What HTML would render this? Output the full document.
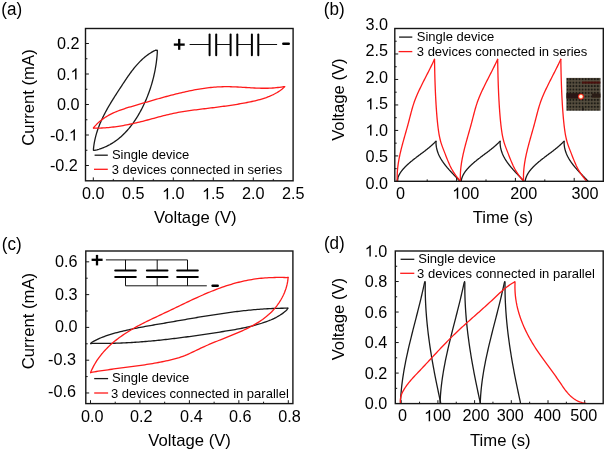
<!DOCTYPE html><html><head><meta charset="utf-8"><style>html,body{margin:0;padding:0;background:#fff;width:606px;height:451px;overflow:hidden}svg{display:block;filter:blur(0.3px)}text{font-family:"Liberation Sans",sans-serif}</style></head><body>
<svg xmlns="http://www.w3.org/2000/svg" width="606" height="451" viewBox="0 0 606 451">
<rect width="606" height="451" fill="#fff"/>
<text transform="translate(1.20,14.60) scale(0.96,1)" font-size="17.8" text-anchor="start" fill="#000" >(a)</text>
<text transform="translate(323.70,14.50) scale(0.96,1)" font-size="17.8" text-anchor="start" fill="#000" >(b)</text>
<text transform="translate(1.80,249.50) scale(0.96,1)" font-size="17.8" text-anchor="start" fill="#000" >(c)</text>
<text transform="translate(323.90,249.20) scale(0.96,1)" font-size="17.8" text-anchor="start" fill="#000" >(d)</text>
<line x1="93.30" y1="180.80" x2="93.30" y2="177.40" stroke="#161616" stroke-width="1.0" stroke-linecap="butt"/>
<line x1="133.30" y1="180.80" x2="133.30" y2="177.40" stroke="#161616" stroke-width="1.0" stroke-linecap="butt"/>
<line x1="173.30" y1="180.80" x2="173.30" y2="177.40" stroke="#161616" stroke-width="1.0" stroke-linecap="butt"/>
<line x1="213.30" y1="180.80" x2="213.30" y2="177.40" stroke="#161616" stroke-width="1.0" stroke-linecap="butt"/>
<line x1="253.30" y1="180.80" x2="253.30" y2="177.40" stroke="#161616" stroke-width="1.0" stroke-linecap="butt"/>
<line x1="113.30" y1="180.80" x2="113.30" y2="178.90" stroke="#161616" stroke-width="1.0" stroke-linecap="butt"/>
<line x1="153.30" y1="180.80" x2="153.30" y2="178.90" stroke="#161616" stroke-width="1.0" stroke-linecap="butt"/>
<line x1="193.30" y1="180.80" x2="193.30" y2="178.90" stroke="#161616" stroke-width="1.0" stroke-linecap="butt"/>
<line x1="233.30" y1="180.80" x2="233.30" y2="178.90" stroke="#161616" stroke-width="1.0" stroke-linecap="butt"/>
<line x1="273.30" y1="180.80" x2="273.30" y2="178.90" stroke="#161616" stroke-width="1.0" stroke-linecap="butt"/>
<line x1="85.50" y1="165.50" x2="88.90" y2="165.50" stroke="#161616" stroke-width="1.0" stroke-linecap="butt"/>
<line x1="85.50" y1="135.00" x2="88.90" y2="135.00" stroke="#161616" stroke-width="1.0" stroke-linecap="butt"/>
<line x1="85.50" y1="104.50" x2="88.90" y2="104.50" stroke="#161616" stroke-width="1.0" stroke-linecap="butt"/>
<line x1="85.50" y1="74.00" x2="88.90" y2="74.00" stroke="#161616" stroke-width="1.0" stroke-linecap="butt"/>
<line x1="85.50" y1="43.50" x2="88.90" y2="43.50" stroke="#161616" stroke-width="1.0" stroke-linecap="butt"/>
<line x1="85.50" y1="150.25" x2="87.40" y2="150.25" stroke="#161616" stroke-width="1.0" stroke-linecap="butt"/>
<line x1="85.50" y1="119.75" x2="87.40" y2="119.75" stroke="#161616" stroke-width="1.0" stroke-linecap="butt"/>
<line x1="85.50" y1="89.25" x2="87.40" y2="89.25" stroke="#161616" stroke-width="1.0" stroke-linecap="butt"/>
<line x1="85.50" y1="58.75" x2="87.40" y2="58.75" stroke="#161616" stroke-width="1.0" stroke-linecap="butt"/>
<text transform="translate(93.30,199.30) scale(1.04,1)" font-size="15.6" text-anchor="middle" fill="#000" >0.0</text>
<text transform="translate(133.30,199.30) scale(1.04,1)" font-size="15.6" text-anchor="middle" fill="#000" >0.5</text>
<text transform="translate(162.02,199.30) scale(1.04,1)" font-size="15.6" text-anchor="start" fill="#000" > .0</text>
<path transform="translate(162.02,199.30) scale(0.00792,-0.00762)" d="M763 0H583V1147Q518 1085 412.5 1023Q307 961 223 930V1104Q374 1175 487 1276Q600 1377 647 1472H763Z" fill="#000"/>
<text transform="translate(202.02,199.30) scale(1.04,1)" font-size="15.6" text-anchor="start" fill="#000" > .5</text>
<path transform="translate(202.02,199.30) scale(0.00792,-0.00762)" d="M763 0H583V1147Q518 1085 412.5 1023Q307 961 223 930V1104Q374 1175 487 1276Q600 1377 647 1472H763Z" fill="#000"/>
<text transform="translate(253.30,199.30) scale(1.04,1)" font-size="15.6" text-anchor="middle" fill="#000" >2.0</text>
<text transform="translate(293.30,199.30) scale(1.04,1)" font-size="15.6" text-anchor="middle" fill="#000" >2.5</text>
<text transform="translate(79.50,49.00) scale(1.04,1)" font-size="15.6" text-anchor="end" fill="#000" >0.2</text>
<text transform="translate(56.95,79.50) scale(1.04,1)" font-size="15.6" text-anchor="start" fill="#000" >0. </text>
<path transform="translate(70.48,79.50) scale(0.00792,-0.00762)" d="M763 0H583V1147Q518 1085 412.5 1023Q307 961 223 930V1104Q374 1175 487 1276Q600 1377 647 1472H763Z" fill="#000"/>
<text transform="translate(79.50,110.00) scale(1.04,1)" font-size="15.6" text-anchor="end" fill="#000" >0.0</text>
<text transform="translate(49.94,140.50) scale(1.04,1)" font-size="15.6" text-anchor="start" fill="#000" >-0. </text>
<path transform="translate(68.88,140.50) scale(0.00792,-0.00762)" d="M763 0H583V1147Q518 1085 412.5 1023Q307 961 223 930V1104Q374 1175 487 1276Q600 1377 647 1472H763Z" fill="#000"/>
<text transform="translate(77.90,171.00) scale(1.04,1)" font-size="15.6" text-anchor="end" fill="#000" >-0.2</text>
<text transform="translate(195.30,222.50) scale(1.03,1)" font-size="16.2" text-anchor="middle" fill="#000" >Voltage (V)</text>
<text transform="translate(34.00,97.50) rotate(-90) scale(1.03,1)" font-size="16.2" text-anchor="middle" fill="#000" >Current (mA)</text>
<path d="M93.50,150.20 L93.45,149.16 L93.55,148.11 L93.67,147.06 L93.80,146.02 L93.95,144.98 L94.11,143.95 L94.28,142.92 L94.46,141.90 L94.66,140.88 L94.87,139.87 L95.09,138.86 L95.33,137.86 L95.57,136.86 L95.83,135.87 L96.10,134.88 L96.38,133.90 L96.67,132.92 L96.97,131.95 L97.28,130.98 L97.60,130.01 L97.93,129.05 L98.28,128.09 L98.63,127.13 L98.99,126.18 L99.36,125.23 L99.74,124.29 L100.13,123.35 L100.53,122.41 L100.93,121.48 L101.35,120.54 L101.77,119.62 L102.20,118.69 L102.63,117.77 L103.08,116.85 L103.53,115.93 L103.99,115.02 L104.46,114.11 L104.93,113.20 L105.41,112.29 L105.89,111.39 L106.38,110.49 L106.88,109.59 L107.38,108.69 L107.89,107.79 L108.40,106.90 L108.92,106.01 L109.44,105.12 L109.97,104.23 L110.50,103.34 L111.03,102.45 L111.57,101.57 L112.11,100.69 L112.66,99.80 L113.21,98.92 L113.76,98.04 L114.32,97.16 L114.87,96.28 L115.43,95.41 L116.00,94.53 L116.56,93.65 L117.13,92.77 L117.69,91.90 L118.26,91.02 L118.83,90.15 L119.40,89.27 L119.98,88.39 L120.55,87.52 L121.12,86.64 L121.69,85.77 L122.27,84.89 L122.84,84.01 L123.42,83.14 L123.99,82.27 L124.57,81.39 L125.15,80.52 L125.73,79.65 L126.32,78.79 L126.90,77.93 L127.49,77.07 L128.09,76.21 L128.68,75.36 L129.28,74.51 L129.89,73.67 L130.50,72.83 L131.11,72.00 L131.73,71.17 L132.36,70.35 L132.99,69.54 L133.62,68.73 L134.26,67.94 L134.91,67.14 L135.57,66.36 L136.23,65.59 L136.90,64.82 L137.58,64.06 L138.26,63.32 L138.96,62.58 L139.66,61.85 L140.37,61.14 L141.09,60.43 L141.82,59.74 L142.56,59.05 L143.31,58.38 L144.07,57.73 L144.84,57.08 L145.62,56.45 L146.41,55.83 L147.22,55.23 L148.03,54.64 L148.86,54.06 L149.70,53.50 L150.55,52.95 L151.41,52.42 L152.29,51.91 L153.18,51.41 L154.09,50.93 L155.01,50.47 L155.94,50.02 L157.20,50.40" fill="none" stroke="#1a1a1a" stroke-width="1.3" stroke-linejoin="round" stroke-linecap="round"/>
<path d="M157.20,50.40 L157.34,51.71 L157.28,52.73 L157.21,53.75 L157.14,54.77 L157.05,55.80 L156.96,56.82 L156.86,57.85 L156.75,58.88 L156.64,59.91 L156.51,60.94 L156.38,61.98 L156.24,63.01 L156.09,64.05 L155.93,65.09 L155.77,66.13 L155.60,67.17 L155.42,68.21 L155.23,69.25 L155.03,70.29 L154.83,71.34 L154.62,72.38 L154.40,73.42 L154.17,74.46 L153.93,75.51 L153.69,76.55 L153.44,77.59 L153.18,78.63 L152.91,79.67 L152.63,80.71 L152.35,81.75 L152.06,82.78 L151.76,83.82 L151.45,84.85 L151.13,85.89 L150.81,86.92 L150.48,87.95 L150.14,88.98 L149.79,90.00 L149.44,91.03 L149.08,92.05 L148.71,93.07 L148.33,94.08 L147.94,95.10 L147.55,96.11 L147.15,97.12 L146.74,98.12 L146.32,99.13 L145.89,100.13 L145.46,101.12 L145.02,102.11 L144.57,103.10 L144.11,104.09 L143.65,105.07 L143.18,106.04 L142.70,107.02 L142.21,107.98 L141.71,108.95 L141.21,109.91 L140.70,110.86 L140.18,111.81 L139.66,112.75 L139.12,113.69 L138.58,114.63 L138.03,115.56 L137.47,116.48 L136.91,117.40 L136.33,118.31 L135.75,119.21 L135.16,120.11 L134.56,120.99 L133.95,121.88 L133.34,122.75 L132.71,123.62 L132.08,124.48 L131.44,125.33 L130.79,126.17 L130.13,127.00 L129.46,127.82 L128.79,128.64 L128.10,129.44 L127.41,130.23 L126.70,131.02 L125.99,131.79 L125.27,132.56 L124.53,133.31 L123.79,134.05 L123.04,134.78 L122.28,135.50 L121.51,136.20 L120.73,136.90 L119.95,137.58 L119.15,138.25 L118.34,138.90 L117.52,139.54 L116.69,140.17 L115.85,140.79 L115.00,141.39 L114.14,141.98 L113.27,142.55 L112.40,143.11 L111.51,143.65 L110.60,144.18 L109.69,144.70 L108.77,145.19 L107.84,145.67 L106.90,146.14 L105.94,146.59 L104.98,147.02 L104.00,147.44 L103.01,147.83 L102.02,148.22 L101.01,148.58 L99.99,148.92 L98.96,149.25 L97.91,149.56 L96.86,149.85 L95.79,150.12 L94.72,150.37 L93.50,150.20" fill="none" stroke="#1a1a1a" stroke-width="1.3" stroke-linejoin="round" stroke-linecap="round"/>
<path d="M93.50,128.00 L94.47,126.64 L95.64,125.33 L96.84,124.08 L98.08,122.89 L99.34,121.75 L100.63,120.67 L101.95,119.63 L103.30,118.65 L104.67,117.71 L106.07,116.82 L107.48,115.97 L108.92,115.16 L110.39,114.38 L111.87,113.64 L113.36,112.94 L114.88,112.27 L116.41,111.62 L117.95,111.00 L119.51,110.41 L121.08,109.84 L122.66,109.29 L124.26,108.76 L125.86,108.24 L127.46,107.73 L129.07,107.24 L130.69,106.76 L132.31,106.28 L133.94,105.81 L135.56,105.34 L137.19,104.87 L138.81,104.39 L140.43,103.92 L142.06,103.45 L143.68,102.97 L145.30,102.50 L146.92,102.03 L148.54,101.56 L150.17,101.08 L151.79,100.61 L153.41,100.15 L155.03,99.68 L156.65,99.22 L158.27,98.75 L159.89,98.30 L161.52,97.84 L163.14,97.39 L164.76,96.94 L166.39,96.50 L168.01,96.06 L169.64,95.63 L171.26,95.20 L172.89,94.78 L174.52,94.37 L176.15,93.96 L177.78,93.55 L179.41,93.16 L181.05,92.77 L182.68,92.39 L184.32,92.02 L185.96,91.65 L187.60,91.30 L189.24,90.95 L190.89,90.61 L192.53,90.29 L194.18,89.97 L195.83,89.66 L197.48,89.37 L199.14,89.08 L200.80,88.81 L202.46,88.55 L204.12,88.31 L205.78,88.08 L207.44,87.86 L209.11,87.67 L210.78,87.48 L212.45,87.32 L214.12,87.17 L215.79,87.04 L217.46,86.94 L219.13,86.85 L220.81,86.78 L222.49,86.73 L224.16,86.70 L225.84,86.69 L227.52,86.70 L229.20,86.72 L230.88,86.76 L232.56,86.81 L234.24,86.87 L235.92,86.94 L237.60,87.02 L239.28,87.11 L240.96,87.20 L242.64,87.30 L244.32,87.40 L246.01,87.51 L247.69,87.61 L249.37,87.72 L251.05,87.82 L252.73,87.91 L254.41,88.00 L256.09,88.07 L257.77,88.14 L259.45,88.20 L261.13,88.24 L262.81,88.26 L264.49,88.27 L266.17,88.26 L267.85,88.23 L269.53,88.17 L271.20,88.10 L272.88,87.99 L274.56,87.87 L276.23,87.71 L277.91,87.52 L279.58,87.30 L281.26,87.05 L282.93,86.77 L284.60,86.60" fill="none" stroke="#ff1a1a" stroke-width="1.3" stroke-linejoin="round" stroke-linecap="round"/>
<path d="M284.60,86.60 L283.52,87.87 L282.22,88.95 L280.89,89.97 L279.53,90.94 L278.15,91.85 L276.74,92.71 L275.31,93.53 L273.86,94.30 L272.39,95.02 L270.89,95.71 L269.38,96.36 L267.86,96.96 L266.31,97.54 L264.76,98.08 L263.19,98.59 L261.60,99.07 L260.01,99.53 L258.41,99.96 L256.80,100.37 L255.18,100.77 L253.56,101.14 L251.93,101.50 L250.30,101.85 L248.67,102.18 L247.04,102.51 L245.41,102.83 L243.77,103.14 L242.13,103.43 L240.50,103.72 L238.86,104.01 L237.22,104.28 L235.58,104.55 L233.94,104.81 L232.30,105.06 L230.65,105.31 L229.01,105.55 L227.37,105.79 L225.72,106.02 L224.08,106.25 L222.43,106.47 L220.78,106.69 L219.14,106.91 L217.49,107.12 L215.84,107.33 L214.20,107.54 L212.55,107.74 L210.90,107.95 L209.25,108.15 L207.61,108.35 L205.96,108.55 L204.31,108.75 L202.66,108.95 L201.02,109.15 L199.37,109.36 L197.72,109.56 L196.08,109.77 L194.43,109.98 L192.79,110.20 L191.15,110.42 L189.51,110.64 L187.87,110.88 L186.23,111.12 L184.59,111.37 L182.96,111.63 L181.32,111.90 L179.69,112.18 L178.07,112.48 L176.44,112.79 L174.82,113.11 L173.20,113.45 L171.58,113.80 L169.97,114.16 L168.36,114.54 L166.75,114.93 L165.14,115.33 L163.53,115.73 L161.93,116.14 L160.32,116.56 L158.72,116.99 L157.12,117.42 L155.52,117.85 L153.91,118.28 L152.31,118.71 L150.71,119.14 L149.10,119.58 L147.50,120.00 L145.89,120.43 L144.28,120.84 L142.67,121.26 L141.06,121.66 L139.44,122.06 L137.83,122.45 L136.21,122.83 L134.59,123.20 L132.97,123.57 L131.34,123.92 L129.72,124.26 L128.09,124.60 L126.46,124.92 L124.83,125.23 L123.20,125.52 L121.57,125.80 L119.93,126.07 L118.29,126.33 L116.65,126.57 L115.01,126.79 L113.37,127.00 L111.72,127.20 L110.07,127.37 L108.42,127.53 L106.77,127.67 L105.12,127.79 L103.46,127.89 L101.80,127.98 L100.15,128.04 L98.48,128.08 L96.82,128.10 L95.15,128.10 L93.50,128.00" fill="none" stroke="#ff1a1a" stroke-width="1.3" stroke-linejoin="round" stroke-linecap="round"/>
<line x1="94.60" y1="155.20" x2="107.80" y2="155.20" stroke="#1a1a1a" stroke-width="1.3" stroke-linecap="butt"/>
<line x1="94.00" y1="169.30" x2="107.80" y2="169.30" stroke="#ff1a1a" stroke-width="1.3" stroke-linecap="butt"/>
<text x="111.90" y="158.60" font-size="13.0" text-anchor="start" fill="#000" >Single device</text>
<text x="111.70" y="174.00" font-size="13.0" text-anchor="start" fill="#000" >3 devices connected in series</text>
<line x1="173.80" y1="44.60" x2="184.70" y2="44.60" stroke="#000" stroke-width="2.3" stroke-linecap="butt"/>
<line x1="179.20" y1="38.90" x2="179.20" y2="49.80" stroke="#000" stroke-width="2.3" stroke-linecap="butt"/>
<line x1="189.60" y1="44.50" x2="209.60" y2="44.50" stroke="#111" stroke-width="1.0" stroke-linecap="butt"/>
<line x1="209.60" y1="34.60" x2="209.60" y2="55.30" stroke="#000" stroke-width="2.0" stroke-linecap="round"/>
<line x1="216.20" y1="34.60" x2="216.20" y2="55.30" stroke="#000" stroke-width="2.0" stroke-linecap="round"/>
<line x1="230.60" y1="34.60" x2="230.60" y2="55.30" stroke="#000" stroke-width="2.0" stroke-linecap="round"/>
<line x1="237.30" y1="34.60" x2="237.30" y2="55.30" stroke="#000" stroke-width="2.0" stroke-linecap="round"/>
<line x1="251.90" y1="34.60" x2="251.90" y2="55.30" stroke="#000" stroke-width="2.0" stroke-linecap="round"/>
<line x1="258.30" y1="34.60" x2="258.30" y2="55.30" stroke="#000" stroke-width="2.0" stroke-linecap="round"/>
<line x1="216.20" y1="44.50" x2="230.60" y2="44.50" stroke="#111" stroke-width="1.0" stroke-linecap="butt"/>
<line x1="237.30" y1="44.50" x2="251.90" y2="44.50" stroke="#111" stroke-width="1.0" stroke-linecap="butt"/>
<line x1="258.30" y1="44.50" x2="277.10" y2="44.50" stroke="#111" stroke-width="1.0" stroke-linecap="butt"/>
<line x1="283.30" y1="43.80" x2="288.80" y2="43.80" stroke="#000" stroke-width="2.4" stroke-linecap="round"/>
<rect x="85.50" y="28.50" width="207.60" height="152.30" fill="none" stroke="#161616" stroke-width="1.4"/>
<line x1="397.80" y1="181.30" x2="397.80" y2="177.90" stroke="#161616" stroke-width="1.0" stroke-linecap="butt"/>
<line x1="456.60" y1="181.30" x2="456.60" y2="177.90" stroke="#161616" stroke-width="1.0" stroke-linecap="butt"/>
<line x1="515.40" y1="181.30" x2="515.40" y2="177.90" stroke="#161616" stroke-width="1.0" stroke-linecap="butt"/>
<line x1="574.20" y1="181.30" x2="574.20" y2="177.90" stroke="#161616" stroke-width="1.0" stroke-linecap="butt"/>
<line x1="427.20" y1="181.30" x2="427.20" y2="179.40" stroke="#161616" stroke-width="1.0" stroke-linecap="butt"/>
<line x1="486.00" y1="181.30" x2="486.00" y2="179.40" stroke="#161616" stroke-width="1.0" stroke-linecap="butt"/>
<line x1="544.80" y1="181.30" x2="544.80" y2="179.40" stroke="#161616" stroke-width="1.0" stroke-linecap="butt"/>
<line x1="394.80" y1="155.92" x2="398.20" y2="155.92" stroke="#161616" stroke-width="1.0" stroke-linecap="butt"/>
<line x1="394.80" y1="130.43" x2="398.20" y2="130.43" stroke="#161616" stroke-width="1.0" stroke-linecap="butt"/>
<line x1="394.80" y1="104.95" x2="398.20" y2="104.95" stroke="#161616" stroke-width="1.0" stroke-linecap="butt"/>
<line x1="394.80" y1="79.46" x2="398.20" y2="79.46" stroke="#161616" stroke-width="1.0" stroke-linecap="butt"/>
<line x1="394.80" y1="53.98" x2="398.20" y2="53.98" stroke="#161616" stroke-width="1.0" stroke-linecap="butt"/>
<line x1="394.80" y1="168.66" x2="396.70" y2="168.66" stroke="#161616" stroke-width="1.0" stroke-linecap="butt"/>
<line x1="394.80" y1="143.17" x2="396.70" y2="143.17" stroke="#161616" stroke-width="1.0" stroke-linecap="butt"/>
<line x1="394.80" y1="117.69" x2="396.70" y2="117.69" stroke="#161616" stroke-width="1.0" stroke-linecap="butt"/>
<line x1="394.80" y1="92.20" x2="396.70" y2="92.20" stroke="#161616" stroke-width="1.0" stroke-linecap="butt"/>
<line x1="394.80" y1="66.72" x2="396.70" y2="66.72" stroke="#161616" stroke-width="1.0" stroke-linecap="butt"/>
<line x1="394.80" y1="41.23" x2="396.70" y2="41.23" stroke="#161616" stroke-width="1.0" stroke-linecap="butt"/>
<text transform="translate(400.50,198.70) scale(1.04,1)" font-size="15.6" text-anchor="middle" fill="#000" >0</text>
<text transform="translate(452.17,198.70) scale(1.04,1)" font-size="15.6" text-anchor="start" fill="#000" > 00</text>
<path transform="translate(452.17,198.70) scale(0.00792,-0.00762)" d="M763 0H583V1147Q518 1085 412.5 1023Q307 961 223 930V1104Q374 1175 487 1276Q600 1377 647 1472H763Z" fill="#000"/>
<text transform="translate(523.80,198.70) scale(1.04,1)" font-size="15.6" text-anchor="middle" fill="#000" >200</text>
<text transform="translate(584.90,198.70) scale(1.04,1)" font-size="15.6" text-anchor="middle" fill="#000" >300</text>
<text transform="translate(388.00,29.80) scale(1.04,1)" font-size="15.6" text-anchor="end" fill="#000" >3.0</text>
<text transform="translate(388.00,56.40) scale(1.04,1)" font-size="15.6" text-anchor="end" fill="#000" >2.5</text>
<text transform="translate(388.00,82.90) scale(1.04,1)" font-size="15.6" text-anchor="end" fill="#000" >2.0</text>
<text transform="translate(365.45,109.40) scale(1.04,1)" font-size="15.6" text-anchor="start" fill="#000" > .5</text>
<path transform="translate(365.45,109.40) scale(0.00792,-0.00762)" d="M763 0H583V1147Q518 1085 412.5 1023Q307 961 223 930V1104Q374 1175 487 1276Q600 1377 647 1472H763Z" fill="#000"/>
<text transform="translate(365.45,135.60) scale(1.04,1)" font-size="15.6" text-anchor="start" fill="#000" > .0</text>
<path transform="translate(365.45,135.60) scale(0.00792,-0.00762)" d="M763 0H583V1147Q518 1085 412.5 1023Q307 961 223 930V1104Q374 1175 487 1276Q600 1377 647 1472H763Z" fill="#000"/>
<text transform="translate(388.00,161.60) scale(1.04,1)" font-size="15.6" text-anchor="end" fill="#000" >0.5</text>
<text transform="translate(388.00,189.00) scale(1.04,1)" font-size="15.6" text-anchor="end" fill="#000" >0.0</text>
<text transform="translate(502.90,223.40) scale(1.03,1)" font-size="16.2" text-anchor="middle" fill="#000" >Time (s)</text>
<text transform="translate(344.20,99.60) rotate(-90) scale(1.03,1)" font-size="16.2" text-anchor="middle" fill="#000" >Voltage (V)</text>
<path d="M397.40,181.30 L397.12,180.75 L397.21,180.27 L397.31,179.79 L397.42,179.32 L397.55,178.85 L397.68,178.40 L397.83,177.94 L397.98,177.49 L398.15,177.05 L398.32,176.61 L398.50,176.18 L398.70,175.75 L398.90,175.33 L399.11,174.91 L399.33,174.50 L399.55,174.09 L399.79,173.69 L400.03,173.29 L400.28,172.89 L400.53,172.50 L400.79,172.11 L401.06,171.73 L401.34,171.35 L401.62,170.97 L401.90,170.60 L402.20,170.23 L402.49,169.87 L402.80,169.51 L403.10,169.15 L403.41,168.79 L403.73,168.44 L404.05,168.09 L404.37,167.74 L404.70,167.40 L405.03,167.05 L405.36,166.71 L405.69,166.38 L406.03,166.04 L406.37,165.71 L406.72,165.38 L407.06,165.05 L407.41,164.72 L407.76,164.40 L408.11,164.07 L408.47,163.75 L408.83,163.43 L409.19,163.12 L409.55,162.80 L409.91,162.49 L410.28,162.17 L410.65,161.86 L411.02,161.55 L411.39,161.25 L411.76,160.94 L412.14,160.64 L412.51,160.33 L412.89,160.03 L413.27,159.73 L413.65,159.43 L414.03,159.13 L414.41,158.83 L414.79,158.53 L415.18,158.24 L415.56,157.94 L415.95,157.65 L416.33,157.35 L416.72,157.06 L417.11,156.76 L417.50,156.47 L417.88,156.18 L418.27,155.89 L418.66,155.60 L419.05,155.31 L419.44,155.02 L419.83,154.72 L420.22,154.43 L420.61,154.14 L421.00,153.85 L421.39,153.56 L421.77,153.27 L422.16,152.98 L422.55,152.69 L422.94,152.40 L423.32,152.11 L423.71,151.82 L424.09,151.52 L424.48,151.23 L424.86,150.94 L425.24,150.64 L425.62,150.35 L426.00,150.05 L426.38,149.76 L426.76,149.46 L427.13,149.16 L427.51,148.86 L427.88,148.56 L428.25,148.26 L428.62,147.96 L428.99,147.65 L429.36,147.35 L429.72,147.04 L430.08,146.74 L430.44,146.43 L430.80,146.12 L431.16,145.80 L431.51,145.49 L431.86,145.17 L432.21,144.86 L432.55,144.54 L432.90,144.22 L433.24,143.90 L433.58,143.57 L433.91,143.24 L434.24,142.92 L434.57,142.58 L434.90,142.25 L435.22,141.92 L435.54,141.58 L436.00,141.30" fill="none" stroke="#1a1a1a" stroke-width="1.3" stroke-linejoin="round" stroke-linecap="round"/>
<path d="M436.00,141.30 L435.99,141.68 L435.99,142.10 L435.99,142.52 L436.00,142.94 L436.01,143.36 L436.03,143.78 L436.06,144.19 L436.09,144.61 L436.13,145.02 L436.17,145.42 L436.22,145.83 L436.28,146.23 L436.34,146.64 L436.40,147.04 L436.47,147.44 L436.55,147.83 L436.63,148.23 L436.71,148.62 L436.81,149.01 L436.90,149.40 L437.00,149.79 L437.11,150.17 L437.22,150.55 L437.34,150.94 L437.46,151.32 L437.58,151.69 L437.71,152.07 L437.84,152.44 L437.98,152.82 L438.12,153.19 L438.27,153.56 L438.42,153.92 L438.58,154.29 L438.74,154.66 L438.90,155.02 L439.07,155.38 L439.24,155.74 L439.41,156.10 L439.59,156.45 L439.77,156.81 L439.96,157.16 L440.15,157.51 L440.34,157.86 L440.54,158.21 L440.73,158.56 L440.94,158.91 L441.14,159.25 L441.35,159.59 L441.56,159.94 L441.78,160.28 L442.00,160.62 L442.22,160.95 L442.44,161.29 L442.67,161.62 L442.90,161.96 L443.13,162.29 L443.36,162.62 L443.60,162.95 L443.84,163.28 L444.08,163.61 L444.32,163.93 L444.57,164.26 L444.82,164.58 L445.07,164.91 L445.32,165.23 L445.57,165.55 L445.83,165.87 L446.09,166.19 L446.35,166.50 L446.61,166.82 L446.87,167.13 L447.13,167.45 L447.40,167.76 L447.67,168.07 L447.94,168.38 L448.21,168.69 L448.48,169.00 L448.75,169.31 L449.02,169.62 L449.30,169.92 L449.57,170.23 L449.85,170.54 L450.12,170.84 L450.40,171.14 L450.68,171.44 L450.96,171.74 L451.24,172.05 L451.52,172.35 L451.80,172.64 L452.08,172.94 L452.36,173.24 L452.64,173.54 L452.92,173.83 L453.20,174.13 L453.48,174.42 L453.76,174.72 L454.04,175.01 L454.32,175.30 L454.61,175.60 L454.89,175.89 L455.17,176.18 L455.44,176.47 L455.72,176.76 L456.00,177.05 L456.28,177.34 L456.56,177.63 L456.83,177.91 L457.11,178.20 L457.38,178.49 L457.65,178.77 L457.93,179.06 L458.20,179.35 L458.47,179.63 L458.74,179.92 L459.00,180.20 L459.27,180.49 L459.53,180.77 L459.80,181.05 L460.20,181.30" fill="none" stroke="#1a1a1a" stroke-width="1.3" stroke-linejoin="round" stroke-linecap="round"/>
<path d="M461.50,181.30 L461.22,180.75 L461.31,180.27 L461.41,179.79 L461.52,179.32 L461.65,178.85 L461.78,178.40 L461.93,177.94 L462.08,177.49 L462.25,177.05 L462.42,176.61 L462.60,176.18 L462.80,175.75 L463.00,175.33 L463.21,174.91 L463.43,174.50 L463.65,174.09 L463.89,173.69 L464.13,173.29 L464.38,172.89 L464.63,172.50 L464.89,172.11 L465.16,171.73 L465.44,171.35 L465.72,170.97 L466.00,170.60 L466.30,170.23 L466.59,169.87 L466.90,169.51 L467.20,169.15 L467.51,168.79 L467.83,168.44 L468.15,168.09 L468.47,167.74 L468.80,167.40 L469.13,167.05 L469.46,166.71 L469.79,166.38 L470.13,166.04 L470.47,165.71 L470.82,165.38 L471.16,165.05 L471.51,164.72 L471.86,164.40 L472.21,164.07 L472.57,163.75 L472.93,163.43 L473.29,163.12 L473.65,162.80 L474.01,162.49 L474.38,162.17 L474.75,161.86 L475.12,161.55 L475.49,161.25 L475.86,160.94 L476.24,160.64 L476.61,160.33 L476.99,160.03 L477.37,159.73 L477.75,159.43 L478.13,159.13 L478.51,158.83 L478.89,158.53 L479.28,158.24 L479.66,157.94 L480.05,157.65 L480.43,157.35 L480.82,157.06 L481.21,156.76 L481.60,156.47 L481.98,156.18 L482.37,155.89 L482.76,155.60 L483.15,155.31 L483.54,155.02 L483.93,154.72 L484.32,154.43 L484.71,154.14 L485.10,153.85 L485.49,153.56 L485.87,153.27 L486.26,152.98 L486.65,152.69 L487.04,152.40 L487.42,152.11 L487.81,151.82 L488.19,151.52 L488.58,151.23 L488.96,150.94 L489.34,150.64 L489.72,150.35 L490.10,150.05 L490.48,149.76 L490.86,149.46 L491.23,149.16 L491.61,148.86 L491.98,148.56 L492.35,148.26 L492.72,147.96 L493.09,147.65 L493.46,147.35 L493.82,147.04 L494.18,146.74 L494.54,146.43 L494.90,146.12 L495.26,145.80 L495.61,145.49 L495.96,145.17 L496.31,144.86 L496.65,144.54 L497.00,144.22 L497.34,143.90 L497.68,143.57 L498.01,143.24 L498.34,142.92 L498.67,142.58 L499.00,142.25 L499.32,141.92 L499.64,141.58 L500.10,141.30" fill="none" stroke="#1a1a1a" stroke-width="1.3" stroke-linejoin="round" stroke-linecap="round"/>
<path d="M500.10,141.30 L500.09,141.68 L500.09,142.10 L500.09,142.52 L500.10,142.94 L500.11,143.36 L500.13,143.78 L500.16,144.19 L500.19,144.61 L500.23,145.02 L500.27,145.42 L500.32,145.83 L500.38,146.23 L500.44,146.64 L500.50,147.04 L500.57,147.44 L500.65,147.83 L500.73,148.23 L500.81,148.62 L500.91,149.01 L501.00,149.40 L501.10,149.79 L501.21,150.17 L501.32,150.55 L501.44,150.94 L501.56,151.32 L501.68,151.69 L501.81,152.07 L501.94,152.44 L502.08,152.82 L502.22,153.19 L502.37,153.56 L502.52,153.92 L502.68,154.29 L502.84,154.66 L503.00,155.02 L503.17,155.38 L503.34,155.74 L503.51,156.10 L503.69,156.45 L503.87,156.81 L504.06,157.16 L504.25,157.51 L504.44,157.86 L504.64,158.21 L504.83,158.56 L505.04,158.91 L505.24,159.25 L505.45,159.59 L505.66,159.94 L505.88,160.28 L506.10,160.62 L506.32,160.95 L506.54,161.29 L506.77,161.62 L507.00,161.96 L507.23,162.29 L507.46,162.62 L507.70,162.95 L507.94,163.28 L508.18,163.61 L508.42,163.93 L508.67,164.26 L508.92,164.58 L509.17,164.91 L509.42,165.23 L509.67,165.55 L509.93,165.87 L510.19,166.19 L510.45,166.50 L510.71,166.82 L510.97,167.13 L511.23,167.45 L511.50,167.76 L511.77,168.07 L512.04,168.38 L512.31,168.69 L512.58,169.00 L512.85,169.31 L513.12,169.62 L513.40,169.92 L513.67,170.23 L513.95,170.54 L514.22,170.84 L514.50,171.14 L514.78,171.44 L515.06,171.74 L515.34,172.05 L515.62,172.35 L515.90,172.64 L516.18,172.94 L516.46,173.24 L516.74,173.54 L517.02,173.83 L517.30,174.13 L517.58,174.42 L517.86,174.72 L518.14,175.01 L518.42,175.30 L518.71,175.60 L518.99,175.89 L519.27,176.18 L519.54,176.47 L519.82,176.76 L520.10,177.05 L520.38,177.34 L520.66,177.63 L520.93,177.91 L521.21,178.20 L521.48,178.49 L521.75,178.77 L522.03,179.06 L522.30,179.35 L522.57,179.63 L522.84,179.92 L523.10,180.20 L523.37,180.49 L523.63,180.77 L523.90,181.05 L524.30,181.30" fill="none" stroke="#1a1a1a" stroke-width="1.3" stroke-linejoin="round" stroke-linecap="round"/>
<path d="M525.50,181.30 L525.22,180.75 L525.31,180.27 L525.41,179.79 L525.52,179.32 L525.65,178.85 L525.78,178.40 L525.93,177.94 L526.08,177.49 L526.25,177.05 L526.42,176.61 L526.60,176.18 L526.80,175.75 L527.00,175.33 L527.21,174.91 L527.43,174.50 L527.65,174.09 L527.89,173.69 L528.13,173.29 L528.38,172.89 L528.63,172.50 L528.89,172.11 L529.16,171.73 L529.44,171.35 L529.72,170.97 L530.00,170.60 L530.30,170.23 L530.59,169.87 L530.90,169.51 L531.20,169.15 L531.51,168.79 L531.83,168.44 L532.15,168.09 L532.47,167.74 L532.80,167.40 L533.13,167.05 L533.46,166.71 L533.79,166.38 L534.13,166.04 L534.47,165.71 L534.82,165.38 L535.16,165.05 L535.51,164.72 L535.86,164.40 L536.21,164.07 L536.57,163.75 L536.93,163.43 L537.29,163.12 L537.65,162.80 L538.01,162.49 L538.38,162.17 L538.75,161.86 L539.12,161.55 L539.49,161.25 L539.86,160.94 L540.24,160.64 L540.61,160.33 L540.99,160.03 L541.37,159.73 L541.75,159.43 L542.13,159.13 L542.51,158.83 L542.89,158.53 L543.28,158.24 L543.66,157.94 L544.05,157.65 L544.43,157.35 L544.82,157.06 L545.21,156.76 L545.60,156.47 L545.98,156.18 L546.37,155.89 L546.76,155.60 L547.15,155.31 L547.54,155.02 L547.93,154.72 L548.32,154.43 L548.71,154.14 L549.10,153.85 L549.49,153.56 L549.87,153.27 L550.26,152.98 L550.65,152.69 L551.04,152.40 L551.42,152.11 L551.81,151.82 L552.19,151.52 L552.58,151.23 L552.96,150.94 L553.34,150.64 L553.72,150.35 L554.10,150.05 L554.48,149.76 L554.86,149.46 L555.23,149.16 L555.61,148.86 L555.98,148.56 L556.35,148.26 L556.72,147.96 L557.09,147.65 L557.46,147.35 L557.82,147.04 L558.18,146.74 L558.54,146.43 L558.90,146.12 L559.26,145.80 L559.61,145.49 L559.96,145.17 L560.31,144.86 L560.65,144.54 L561.00,144.22 L561.34,143.90 L561.68,143.57 L562.01,143.24 L562.34,142.92 L562.67,142.58 L563.00,142.25 L563.32,141.92 L563.64,141.58 L564.10,141.30" fill="none" stroke="#1a1a1a" stroke-width="1.3" stroke-linejoin="round" stroke-linecap="round"/>
<path d="M564.10,141.30 L564.09,141.68 L564.09,142.10 L564.09,142.52 L564.10,142.94 L564.11,143.36 L564.13,143.78 L564.16,144.19 L564.19,144.61 L564.23,145.02 L564.27,145.42 L564.32,145.83 L564.38,146.23 L564.44,146.64 L564.50,147.04 L564.57,147.44 L564.65,147.83 L564.73,148.23 L564.81,148.62 L564.91,149.01 L565.00,149.40 L565.10,149.79 L565.21,150.17 L565.32,150.55 L565.44,150.94 L565.56,151.32 L565.68,151.69 L565.81,152.07 L565.94,152.44 L566.08,152.82 L566.22,153.19 L566.37,153.56 L566.52,153.92 L566.68,154.29 L566.84,154.66 L567.00,155.02 L567.17,155.38 L567.34,155.74 L567.51,156.10 L567.69,156.45 L567.87,156.81 L568.06,157.16 L568.25,157.51 L568.44,157.86 L568.64,158.21 L568.83,158.56 L569.04,158.91 L569.24,159.25 L569.45,159.59 L569.66,159.94 L569.88,160.28 L570.10,160.62 L570.32,160.95 L570.54,161.29 L570.77,161.62 L571.00,161.96 L571.23,162.29 L571.46,162.62 L571.70,162.95 L571.94,163.28 L572.18,163.61 L572.42,163.93 L572.67,164.26 L572.92,164.58 L573.17,164.91 L573.42,165.23 L573.67,165.55 L573.93,165.87 L574.19,166.19 L574.45,166.50 L574.71,166.82 L574.97,167.13 L575.23,167.45 L575.50,167.76 L575.77,168.07 L576.04,168.38 L576.31,168.69 L576.58,169.00 L576.85,169.31 L577.12,169.62 L577.40,169.92 L577.67,170.23 L577.95,170.54 L578.22,170.84 L578.50,171.14 L578.78,171.44 L579.06,171.74 L579.34,172.05 L579.62,172.35 L579.90,172.64 L580.18,172.94 L580.46,173.24 L580.74,173.54 L581.02,173.83 L581.30,174.13 L581.58,174.42 L581.86,174.72 L582.14,175.01 L582.42,175.30 L582.71,175.60 L582.99,175.89 L583.27,176.18 L583.54,176.47 L583.82,176.76 L584.10,177.05 L584.38,177.34 L584.66,177.63 L584.93,177.91 L585.21,178.20 L585.48,178.49 L585.75,178.77 L586.03,179.06 L586.30,179.35 L586.57,179.63 L586.84,179.92 L587.10,180.20 L587.37,180.49 L587.63,180.77 L587.90,181.05 L588.30,181.30" fill="none" stroke="#1a1a1a" stroke-width="1.3" stroke-linejoin="round" stroke-linecap="round"/>
<path d="M397.20,181.30 L397.24,180.23 L397.21,179.13 L397.19,178.04 L397.18,176.95 L397.19,175.86 L397.21,174.78 L397.25,173.69 L397.31,172.61 L397.37,171.53 L397.45,170.45 L397.55,169.37 L397.65,168.30 L397.77,167.22 L397.90,166.15 L398.04,165.08 L398.19,164.01 L398.35,162.95 L398.52,161.88 L398.70,160.82 L398.89,159.76 L399.08,158.70 L399.29,157.64 L399.50,156.58 L399.72,155.52 L399.95,154.47 L400.19,153.41 L400.43,152.36 L400.68,151.31 L400.93,150.26 L401.19,149.21 L401.45,148.16 L401.72,147.11 L401.99,146.07 L402.26,145.02 L402.54,143.98 L402.82,142.93 L403.11,141.89 L403.39,140.85 L403.68,139.80 L403.97,138.76 L404.27,137.72 L404.56,136.68 L404.86,135.64 L405.15,134.60 L405.45,133.55 L405.74,132.51 L406.04,131.47 L406.33,130.43 L406.63,129.39 L406.92,128.35 L407.21,127.30 L407.50,126.26 L407.79,125.22 L408.07,124.17 L408.35,123.13 L408.63,122.08 L408.90,121.03 L409.18,119.99 L409.45,118.94 L409.71,117.89 L409.98,116.85 L410.25,115.80 L410.52,114.75 L410.80,113.71 L411.07,112.66 L411.35,111.62 L411.64,110.58 L411.92,109.54 L412.22,108.50 L412.52,107.47 L412.83,106.43 L413.15,105.40 L413.48,104.38 L413.82,103.35 L414.16,102.33 L414.52,101.32 L414.90,100.30 L415.28,99.30 L415.67,98.29 L416.07,97.29 L416.49,96.29 L416.91,95.29 L417.34,94.30 L417.77,93.31 L418.22,92.32 L418.67,91.34 L419.12,90.35 L419.58,89.37 L420.05,88.39 L420.52,87.41 L420.99,86.44 L421.47,85.46 L421.95,84.49 L422.43,83.52 L422.92,82.55 L423.41,81.58 L423.90,80.61 L424.39,79.65 L424.88,78.68 L425.37,77.71 L425.86,76.75 L426.36,75.78 L426.85,74.82 L427.34,73.85 L427.83,72.89 L428.32,71.92 L428.81,70.96 L429.30,69.99 L429.79,69.02 L430.27,68.06 L430.75,67.09 L431.23,66.12 L431.70,65.15 L432.18,64.18 L432.64,63.20 L433.11,62.23 L433.57,61.25 L434.02,60.27 L434.50,59.30" fill="none" stroke="#ff1a1a" stroke-width="1.3" stroke-linejoin="round" stroke-linecap="round"/>
<path d="M434.50,59.30 L434.53,60.37 L434.55,61.44 L434.57,62.52 L434.59,63.59 L434.60,64.66 L434.62,65.73 L434.64,66.80 L434.67,67.87 L434.69,68.95 L434.71,70.02 L434.73,71.09 L434.76,72.16 L434.78,73.23 L434.81,74.30 L434.84,75.37 L434.86,76.43 L434.89,77.50 L434.92,78.57 L434.95,79.64 L434.99,80.71 L435.02,81.78 L435.06,82.85 L435.09,83.92 L435.13,84.98 L435.17,86.05 L435.21,87.12 L435.25,88.19 L435.29,89.26 L435.33,90.32 L435.38,91.39 L435.42,92.46 L435.47,93.53 L435.52,94.60 L435.57,95.66 L435.63,96.73 L435.68,97.80 L435.74,98.87 L435.80,99.94 L435.86,101.00 L435.92,102.07 L435.98,103.14 L436.04,104.21 L436.11,105.28 L436.18,106.35 L436.25,107.42 L436.32,108.49 L436.40,109.55 L436.47,110.62 L436.55,111.69 L436.63,112.76 L436.72,113.83 L436.80,114.90 L436.89,115.97 L436.98,117.04 L437.07,118.11 L437.17,119.18 L437.27,120.25 L437.38,121.32 L437.49,122.39 L437.60,123.45 L437.71,124.52 L437.83,125.58 L437.96,126.64 L438.09,127.71 L438.23,128.77 L438.37,129.83 L438.52,130.88 L438.67,131.94 L438.84,132.99 L439.01,134.04 L439.20,135.09 L439.40,136.13 L439.61,137.17 L439.84,138.21 L440.08,139.25 L440.34,140.28 L440.61,141.30 L440.90,142.32 L441.22,143.34 L441.55,144.35 L441.89,145.36 L442.25,146.37 L442.62,147.37 L442.99,148.38 L443.38,149.38 L443.77,150.38 L444.16,151.38 L444.55,152.38 L444.95,153.38 L445.34,154.38 L445.74,155.39 L446.13,156.39 L446.52,157.39 L446.91,158.39 L447.30,159.38 L447.70,160.38 L448.10,161.37 L448.51,162.36 L448.93,163.34 L449.36,164.31 L449.80,165.28 L450.26,166.23 L450.73,167.18 L451.22,168.12 L451.72,169.05 L452.25,169.97 L452.79,170.89 L453.34,171.79 L453.91,172.68 L454.50,173.57 L455.10,174.45 L455.72,175.32 L456.35,176.19 L457.00,177.04 L457.66,177.89 L458.33,178.74 L459.01,179.58 L459.71,180.41 L460.30,181.30" fill="none" stroke="#ff1a1a" stroke-width="1.3" stroke-linejoin="round" stroke-linecap="round"/>
<path d="M460.35,181.30 L460.39,180.23 L460.36,179.13 L460.34,178.04 L460.33,176.95 L460.34,175.86 L460.36,174.78 L460.40,173.69 L460.46,172.61 L460.52,171.53 L460.60,170.45 L460.70,169.37 L460.80,168.30 L460.92,167.22 L461.05,166.15 L461.19,165.08 L461.34,164.01 L461.50,162.95 L461.67,161.88 L461.85,160.82 L462.04,159.76 L462.23,158.70 L462.44,157.64 L462.65,156.58 L462.87,155.52 L463.10,154.47 L463.34,153.41 L463.58,152.36 L463.83,151.31 L464.08,150.26 L464.34,149.21 L464.60,148.16 L464.87,147.11 L465.14,146.07 L465.41,145.02 L465.69,143.98 L465.97,142.93 L466.26,141.89 L466.54,140.85 L466.83,139.80 L467.12,138.76 L467.42,137.72 L467.71,136.68 L468.01,135.64 L468.30,134.60 L468.60,133.55 L468.89,132.51 L469.19,131.47 L469.48,130.43 L469.78,129.39 L470.07,128.35 L470.36,127.30 L470.65,126.26 L470.94,125.22 L471.22,124.17 L471.50,123.13 L471.78,122.08 L472.05,121.03 L472.33,119.99 L472.60,118.94 L472.86,117.89 L473.13,116.85 L473.40,115.80 L473.67,114.75 L473.95,113.71 L474.22,112.66 L474.50,111.62 L474.79,110.58 L475.07,109.54 L475.37,108.50 L475.67,107.47 L475.98,106.43 L476.30,105.40 L476.63,104.38 L476.97,103.35 L477.31,102.33 L477.67,101.32 L478.05,100.30 L478.43,99.30 L478.82,98.29 L479.22,97.29 L479.64,96.29 L480.06,95.29 L480.49,94.30 L480.92,93.31 L481.37,92.32 L481.82,91.34 L482.27,90.35 L482.73,89.37 L483.20,88.39 L483.67,87.41 L484.14,86.44 L484.62,85.46 L485.10,84.49 L485.58,83.52 L486.07,82.55 L486.56,81.58 L487.05,80.61 L487.54,79.65 L488.03,78.68 L488.52,77.71 L489.01,76.75 L489.51,75.78 L490.00,74.82 L490.49,73.85 L490.98,72.89 L491.47,71.92 L491.96,70.96 L492.45,69.99 L492.94,69.02 L493.42,68.06 L493.90,67.09 L494.38,66.12 L494.85,65.15 L495.33,64.18 L495.79,63.20 L496.26,62.23 L496.72,61.25 L497.17,60.27 L497.65,59.30" fill="none" stroke="#ff1a1a" stroke-width="1.3" stroke-linejoin="round" stroke-linecap="round"/>
<path d="M497.65,59.30 L497.68,60.37 L497.70,61.44 L497.72,62.52 L497.74,63.59 L497.75,64.66 L497.77,65.73 L497.79,66.80 L497.82,67.87 L497.84,68.95 L497.86,70.02 L497.88,71.09 L497.91,72.16 L497.93,73.23 L497.96,74.30 L497.99,75.37 L498.01,76.43 L498.04,77.50 L498.07,78.57 L498.10,79.64 L498.14,80.71 L498.17,81.78 L498.21,82.85 L498.24,83.92 L498.28,84.98 L498.32,86.05 L498.36,87.12 L498.40,88.19 L498.44,89.26 L498.48,90.32 L498.53,91.39 L498.57,92.46 L498.62,93.53 L498.67,94.60 L498.72,95.66 L498.78,96.73 L498.83,97.80 L498.89,98.87 L498.95,99.94 L499.01,101.00 L499.07,102.07 L499.13,103.14 L499.19,104.21 L499.26,105.28 L499.33,106.35 L499.40,107.42 L499.47,108.49 L499.55,109.55 L499.62,110.62 L499.70,111.69 L499.78,112.76 L499.87,113.83 L499.95,114.90 L500.04,115.97 L500.13,117.04 L500.22,118.11 L500.32,119.18 L500.42,120.25 L500.53,121.32 L500.64,122.39 L500.75,123.45 L500.86,124.52 L500.98,125.58 L501.11,126.64 L501.24,127.71 L501.38,128.77 L501.52,129.83 L501.67,130.88 L501.82,131.94 L501.99,132.99 L502.16,134.04 L502.35,135.09 L502.55,136.13 L502.76,137.17 L502.99,138.21 L503.23,139.25 L503.49,140.28 L503.76,141.30 L504.05,142.32 L504.37,143.34 L504.70,144.35 L505.04,145.36 L505.40,146.37 L505.77,147.37 L506.14,148.38 L506.53,149.38 L506.92,150.38 L507.31,151.38 L507.70,152.38 L508.10,153.38 L508.49,154.38 L508.89,155.39 L509.28,156.39 L509.67,157.39 L510.06,158.39 L510.45,159.38 L510.85,160.38 L511.25,161.37 L511.66,162.36 L512.08,163.34 L512.51,164.31 L512.95,165.28 L513.41,166.23 L513.88,167.18 L514.37,168.12 L514.87,169.05 L515.40,169.97 L515.94,170.89 L516.49,171.79 L517.06,172.68 L517.65,173.57 L518.25,174.45 L518.87,175.32 L519.50,176.19 L520.15,177.04 L520.81,177.89 L521.48,178.74 L522.16,179.58 L522.86,180.41 L523.45,181.30" fill="none" stroke="#ff1a1a" stroke-width="1.3" stroke-linejoin="round" stroke-linecap="round"/>
<path d="M523.50,181.30 L523.54,180.23 L523.51,179.13 L523.49,178.04 L523.48,176.95 L523.49,175.86 L523.51,174.78 L523.55,173.69 L523.61,172.61 L523.67,171.53 L523.75,170.45 L523.85,169.37 L523.95,168.30 L524.07,167.22 L524.20,166.15 L524.34,165.08 L524.49,164.01 L524.65,162.95 L524.82,161.88 L525.00,160.82 L525.19,159.76 L525.38,158.70 L525.59,157.64 L525.80,156.58 L526.02,155.52 L526.25,154.47 L526.49,153.41 L526.73,152.36 L526.98,151.31 L527.23,150.26 L527.49,149.21 L527.75,148.16 L528.02,147.11 L528.29,146.07 L528.56,145.02 L528.84,143.98 L529.12,142.93 L529.41,141.89 L529.69,140.85 L529.98,139.80 L530.27,138.76 L530.57,137.72 L530.86,136.68 L531.16,135.64 L531.45,134.60 L531.75,133.55 L532.04,132.51 L532.34,131.47 L532.63,130.43 L532.93,129.39 L533.22,128.35 L533.51,127.30 L533.80,126.26 L534.09,125.22 L534.37,124.17 L534.65,123.13 L534.93,122.08 L535.20,121.03 L535.48,119.99 L535.75,118.94 L536.01,117.89 L536.28,116.85 L536.55,115.80 L536.82,114.75 L537.10,113.71 L537.37,112.66 L537.65,111.62 L537.94,110.58 L538.22,109.54 L538.52,108.50 L538.82,107.47 L539.13,106.43 L539.45,105.40 L539.78,104.38 L540.12,103.35 L540.46,102.33 L540.82,101.32 L541.20,100.30 L541.58,99.30 L541.97,98.29 L542.37,97.29 L542.79,96.29 L543.21,95.29 L543.64,94.30 L544.07,93.31 L544.52,92.32 L544.97,91.34 L545.42,90.35 L545.88,89.37 L546.35,88.39 L546.82,87.41 L547.29,86.44 L547.77,85.46 L548.25,84.49 L548.73,83.52 L549.22,82.55 L549.71,81.58 L550.20,80.61 L550.69,79.65 L551.18,78.68 L551.67,77.71 L552.16,76.75 L552.66,75.78 L553.15,74.82 L553.64,73.85 L554.13,72.89 L554.62,71.92 L555.11,70.96 L555.60,69.99 L556.09,69.02 L556.57,68.06 L557.05,67.09 L557.53,66.12 L558.00,65.15 L558.48,64.18 L558.94,63.20 L559.41,62.23 L559.87,61.25 L560.32,60.27 L560.80,59.30" fill="none" stroke="#ff1a1a" stroke-width="1.3" stroke-linejoin="round" stroke-linecap="round"/>
<path d="M560.80,59.30 L560.83,60.37 L560.85,61.44 L560.87,62.52 L560.89,63.59 L560.90,64.66 L560.92,65.73 L560.94,66.80 L560.97,67.87 L560.99,68.95 L561.01,70.02 L561.03,71.09 L561.06,72.16 L561.08,73.23 L561.11,74.30 L561.14,75.37 L561.16,76.43 L561.19,77.50 L561.22,78.57 L561.25,79.64 L561.29,80.71 L561.32,81.78 L561.36,82.85 L561.39,83.92 L561.43,84.98 L561.47,86.05 L561.51,87.12 L561.55,88.19 L561.59,89.26 L561.63,90.32 L561.68,91.39 L561.72,92.46 L561.77,93.53 L561.82,94.60 L561.87,95.66 L561.93,96.73 L561.98,97.80 L562.04,98.87 L562.10,99.94 L562.16,101.00 L562.22,102.07 L562.28,103.14 L562.34,104.21 L562.41,105.28 L562.48,106.35 L562.55,107.42 L562.62,108.49 L562.70,109.55 L562.77,110.62 L562.85,111.69 L562.93,112.76 L563.02,113.83 L563.10,114.90 L563.19,115.97 L563.28,117.04 L563.37,118.11 L563.47,119.18 L563.57,120.25 L563.68,121.32 L563.79,122.39 L563.90,123.45 L564.01,124.52 L564.13,125.58 L564.26,126.64 L564.39,127.71 L564.53,128.77 L564.67,129.83 L564.82,130.88 L564.97,131.94 L565.14,132.99 L565.31,134.04 L565.50,135.09 L565.70,136.13 L565.91,137.17 L566.14,138.21 L566.38,139.25 L566.64,140.28 L566.91,141.30 L567.20,142.32 L567.52,143.34 L567.85,144.35 L568.19,145.36 L568.55,146.37 L568.92,147.37 L569.29,148.38 L569.68,149.38 L570.07,150.38 L570.46,151.38 L570.85,152.38 L571.25,153.38 L571.64,154.38 L572.04,155.39 L572.43,156.39 L572.82,157.39 L573.21,158.39 L573.60,159.38 L574.00,160.38 L574.40,161.37 L574.81,162.36 L575.23,163.34 L575.66,164.31 L576.10,165.28 L576.56,166.23 L577.03,167.18 L577.52,168.12 L578.02,169.05 L578.55,169.97 L579.09,170.89 L579.64,171.79 L580.21,172.68 L580.80,173.57 L581.40,174.45 L582.02,175.32 L582.65,176.19 L583.30,177.04 L583.96,177.89 L584.63,178.74 L585.31,179.58 L586.01,180.41 L586.60,181.30" fill="none" stroke="#ff1a1a" stroke-width="1.3" stroke-linejoin="round" stroke-linecap="round"/>
<line x1="399.10" y1="37.10" x2="412.30" y2="37.10" stroke="#1a1a1a" stroke-width="1.3" stroke-linecap="butt"/>
<line x1="398.60" y1="51.60" x2="412.30" y2="51.60" stroke="#ff1a1a" stroke-width="1.3" stroke-linecap="butt"/>
<text x="416.80" y="41.20" font-size="13.0" text-anchor="start" fill="#000" >Single device</text>
<text x="416.80" y="55.70" font-size="13.0" text-anchor="start" fill="#000" >3 devices connected in series</text>
<defs><pattern id="bb" x="565.77" y="77.47" width="3.06" height="3.45" patternUnits="userSpaceOnUse"><rect width="3.06" height="3.45" fill="#5a5242"/><rect x="0.55" y="0.7" width="1.95" height="2.05" fill="#1e1a14"/></pattern><radialGradient id="led"><stop offset="0" stop-color="#fffdf0"/><stop offset="0.38" stop-color="#fff2d8"/><stop offset="0.58" stop-color="#ff6040"/><stop offset="0.78" stop-color="#e01818" stop-opacity="0.9"/><stop offset="1" stop-color="#a01010" stop-opacity="0"/></radialGradient><filter id="soft" x="-10%" y="-10%" width="120%" height="120%"><feGaussianBlur stdDeviation="0.35"/></filter></defs>
<g filter="url(#soft)">
<rect x="566.4" y="77.9" width="34.1" height="32.8" fill="url(#bb)"/>
<rect x="566.4" y="93.2" width="16" height="5.4" fill="#2a1913"/>
<rect x="591.9" y="93.6" width="8.6" height="4.0" fill="#2b1b13"/>
<rect x="582" y="81.5" width="18.3" height="2.1" fill="#4c0e0c" opacity="0.9"/>
<rect x="582.4" y="107.6" width="1.2" height="2.8" fill="#0e0c0a"/>
<circle cx="580.9" cy="96.6" r="3.5" fill="url(#led)"/>
</g>
<rect x="394.80" y="28.50" width="208.50" height="152.80" fill="none" stroke="#161616" stroke-width="1.4"/>
<line x1="90.50" y1="403.60" x2="90.50" y2="400.20" stroke="#161616" stroke-width="1.0" stroke-linecap="butt"/>
<line x1="139.95" y1="403.60" x2="139.95" y2="400.20" stroke="#161616" stroke-width="1.0" stroke-linecap="butt"/>
<line x1="189.40" y1="403.60" x2="189.40" y2="400.20" stroke="#161616" stroke-width="1.0" stroke-linecap="butt"/>
<line x1="238.85" y1="403.60" x2="238.85" y2="400.20" stroke="#161616" stroke-width="1.0" stroke-linecap="butt"/>
<line x1="288.30" y1="403.60" x2="288.30" y2="400.20" stroke="#161616" stroke-width="1.0" stroke-linecap="butt"/>
<line x1="115.22" y1="403.60" x2="115.22" y2="401.70" stroke="#161616" stroke-width="1.0" stroke-linecap="butt"/>
<line x1="164.68" y1="403.60" x2="164.68" y2="401.70" stroke="#161616" stroke-width="1.0" stroke-linecap="butt"/>
<line x1="214.12" y1="403.60" x2="214.12" y2="401.70" stroke="#161616" stroke-width="1.0" stroke-linecap="butt"/>
<line x1="263.57" y1="403.60" x2="263.57" y2="401.70" stroke="#161616" stroke-width="1.0" stroke-linecap="butt"/>
<line x1="85.80" y1="392.98" x2="89.20" y2="392.98" stroke="#161616" stroke-width="1.0" stroke-linecap="butt"/>
<line x1="85.80" y1="360.19" x2="89.20" y2="360.19" stroke="#161616" stroke-width="1.0" stroke-linecap="butt"/>
<line x1="85.80" y1="327.40" x2="89.20" y2="327.40" stroke="#161616" stroke-width="1.0" stroke-linecap="butt"/>
<line x1="85.80" y1="294.61" x2="89.20" y2="294.61" stroke="#161616" stroke-width="1.0" stroke-linecap="butt"/>
<line x1="85.80" y1="261.82" x2="89.20" y2="261.82" stroke="#161616" stroke-width="1.0" stroke-linecap="butt"/>
<line x1="85.80" y1="376.58" x2="87.70" y2="376.58" stroke="#161616" stroke-width="1.0" stroke-linecap="butt"/>
<line x1="85.80" y1="343.79" x2="87.70" y2="343.79" stroke="#161616" stroke-width="1.0" stroke-linecap="butt"/>
<line x1="85.80" y1="311.00" x2="87.70" y2="311.00" stroke="#161616" stroke-width="1.0" stroke-linecap="butt"/>
<line x1="85.80" y1="278.21" x2="87.70" y2="278.21" stroke="#161616" stroke-width="1.0" stroke-linecap="butt"/>
<text transform="translate(92.30,421.80) scale(1.04,1)" font-size="15.6" text-anchor="middle" fill="#000" >0.0</text>
<text transform="translate(141.30,421.80) scale(1.04,1)" font-size="15.6" text-anchor="middle" fill="#000" >0.2</text>
<text transform="translate(191.40,421.80) scale(1.04,1)" font-size="15.6" text-anchor="middle" fill="#000" >0.4</text>
<text transform="translate(240.20,421.80) scale(1.04,1)" font-size="15.6" text-anchor="middle" fill="#000" >0.6</text>
<text transform="translate(289.50,421.80) scale(1.04,1)" font-size="15.6" text-anchor="middle" fill="#000" >0.8</text>
<text transform="translate(77.60,267.20) scale(1.04,1)" font-size="15.6" text-anchor="end" fill="#000" >0.6</text>
<text transform="translate(77.60,299.50) scale(1.04,1)" font-size="15.6" text-anchor="end" fill="#000" >0.3</text>
<text transform="translate(77.60,331.70) scale(1.04,1)" font-size="15.6" text-anchor="end" fill="#000" >0.0</text>
<text transform="translate(76.00,365.00) scale(1.04,1)" font-size="15.6" text-anchor="end" fill="#000" >-0.3</text>
<text transform="translate(76.00,397.00) scale(1.04,1)" font-size="15.6" text-anchor="end" fill="#000" >-0.6</text>
<text transform="translate(189.60,446.00) scale(1.03,1)" font-size="16.2" text-anchor="middle" fill="#000" >Voltage (V)</text>
<text transform="translate(34.00,321.10) rotate(-90) scale(1.03,1)" font-size="16.2" text-anchor="middle" fill="#000" >Current (mA)</text>
<path d="M90.80,343.50 L92.01,342.22 L93.48,341.39 L94.96,340.60 L96.46,339.84 L97.98,339.12 L99.51,338.43 L101.06,337.77 L102.62,337.14 L104.19,336.53 L105.77,335.95 L107.36,335.40 L108.96,334.87 L110.57,334.37 L112.19,333.88 L113.82,333.41 L115.45,332.96 L117.08,332.52 L118.73,332.10 L120.37,331.69 L122.02,331.29 L123.67,330.89 L125.32,330.51 L126.97,330.14 L128.62,329.77 L130.28,329.42 L131.93,329.07 L133.59,328.72 L135.25,328.39 L136.91,328.06 L138.57,327.73 L140.23,327.41 L141.90,327.10 L143.56,326.79 L145.23,326.48 L146.89,326.18 L148.56,325.88 L150.23,325.58 L151.89,325.29 L153.56,325.00 L155.23,324.71 L156.90,324.42 L158.57,324.14 L160.24,323.85 L161.91,323.57 L163.58,323.28 L165.25,323.00 L166.92,322.71 L168.59,322.42 L170.26,322.13 L171.92,321.84 L173.59,321.55 L175.26,321.26 L176.93,320.97 L178.60,320.68 L180.27,320.39 L181.94,320.10 L183.61,319.81 L185.28,319.52 L186.95,319.23 L188.62,318.94 L190.29,318.65 L191.96,318.37 L193.63,318.08 L195.30,317.80 L196.97,317.51 L198.64,317.23 L200.31,316.95 L201.98,316.67 L203.66,316.40 L205.33,316.12 L207.00,315.85 L208.67,315.58 L210.34,315.31 L212.02,315.05 L213.69,314.79 L215.36,314.53 L217.04,314.28 L218.71,314.02 L220.38,313.77 L222.06,313.53 L223.73,313.29 L225.41,313.05 L227.09,312.82 L228.76,312.59 L230.44,312.36 L232.12,312.14 L233.79,311.92 L235.47,311.71 L237.15,311.50 L238.83,311.30 L240.51,311.10 L242.19,310.91 L243.87,310.72 L245.55,310.54 L247.23,310.37 L248.92,310.20 L250.60,310.03 L252.28,309.88 L253.97,309.72 L255.65,309.58 L257.34,309.44 L259.03,309.31 L260.71,309.18 L262.40,309.06 L264.09,308.95 L265.78,308.85 L267.47,308.75 L269.16,308.66 L270.85,308.58 L272.55,308.50 L274.24,308.44 L275.93,308.38 L277.63,308.33 L279.32,308.29 L281.02,308.25 L282.72,308.23 L284.42,308.21 L286.12,308.20 L287.80,308.20" fill="none" stroke="#1a1a1a" stroke-width="1.3" stroke-linejoin="round" stroke-linecap="round"/>
<path d="M287.80,308.20 L286.96,309.82 L285.66,310.97 L284.34,312.07 L282.98,313.11 L281.59,314.10 L280.18,315.04 L278.74,315.93 L277.28,316.78 L275.80,317.58 L274.29,318.34 L272.77,319.06 L271.23,319.75 L269.67,320.40 L268.10,321.02 L266.51,321.62 L264.92,322.19 L263.31,322.73 L261.70,323.25 L260.07,323.75 L258.45,324.24 L256.81,324.71 L255.17,325.16 L253.53,325.59 L251.88,326.01 L250.22,326.42 L248.56,326.81 L246.90,327.19 L245.23,327.55 L243.56,327.91 L241.88,328.25 L240.20,328.58 L238.52,328.90 L236.84,329.22 L235.15,329.52 L233.46,329.82 L231.77,330.11 L230.08,330.40 L228.39,330.68 L226.69,330.96 L225.00,331.23 L223.30,331.50 L221.60,331.76 L219.91,332.03 L218.21,332.29 L216.52,332.55 L214.83,332.81 L213.13,333.07 L211.44,333.33 L209.75,333.59 L208.05,333.84 L206.36,334.10 L204.67,334.35 L202.98,334.60 L201.28,334.85 L199.59,335.09 L197.90,335.34 L196.21,335.58 L194.52,335.82 L192.83,336.06 L191.14,336.29 L189.45,336.53 L187.76,336.76 L186.06,336.99 L184.37,337.21 L182.68,337.43 L180.99,337.66 L179.30,337.87 L177.61,338.09 L175.92,338.30 L174.23,338.51 L172.54,338.71 L170.84,338.91 L169.15,339.11 L167.46,339.31 L165.77,339.50 L164.08,339.69 L162.38,339.87 L160.69,340.05 L159.00,340.23 L157.30,340.40 L155.61,340.57 L153.91,340.74 L152.22,340.90 L150.52,341.05 L148.83,341.21 L147.13,341.35 L145.43,341.50 L143.74,341.64 L142.04,341.77 L140.34,341.90 L138.64,342.03 L136.94,342.15 L135.24,342.26 L133.54,342.38 L131.84,342.48 L130.13,342.58 L128.43,342.68 L126.72,342.77 L125.02,342.85 L123.31,342.93 L121.61,343.01 L119.90,343.08 L118.19,343.14 L116.48,343.20 L114.77,343.25 L113.06,343.29 L111.35,343.33 L109.63,343.37 L107.92,343.40 L106.21,343.42 L104.49,343.43 L102.77,343.44 L101.05,343.44 L99.33,343.44 L97.61,343.43 L95.89,343.41 L94.17,343.39 L92.44,343.36 L90.80,343.50" fill="none" stroke="#1a1a1a" stroke-width="1.3" stroke-linejoin="round" stroke-linecap="round"/>
<path d="M90.60,372.60 L91.33,370.87 L92.12,369.10 L92.97,367.36 L93.86,365.65 L94.80,363.98 L95.78,362.33 L96.80,360.71 L97.87,359.12 L98.98,357.57 L100.12,356.04 L101.30,354.54 L102.52,353.07 L103.77,351.63 L105.06,350.21 L106.38,348.83 L107.72,347.47 L109.10,346.14 L110.50,344.83 L111.93,343.56 L113.38,342.31 L114.85,341.08 L116.35,339.88 L117.86,338.71 L119.39,337.56 L120.94,336.44 L122.51,335.35 L124.09,334.27 L125.68,333.22 L127.28,332.19 L128.90,331.19 L130.53,330.20 L132.17,329.23 L133.82,328.28 L135.48,327.35 L137.15,326.43 L138.83,325.53 L140.52,324.64 L142.21,323.76 L143.91,322.89 L145.62,322.03 L147.33,321.18 L149.05,320.34 L150.77,319.51 L152.50,318.68 L154.23,317.86 L155.96,317.04 L157.69,316.22 L159.43,315.41 L161.17,314.59 L162.90,313.77 L164.64,312.96 L166.37,312.13 L168.11,311.31 L169.84,310.48 L171.57,309.65 L173.30,308.82 L175.03,307.98 L176.76,307.15 L178.49,306.32 L180.22,305.48 L181.95,304.65 L183.68,303.82 L185.42,302.99 L187.15,302.17 L188.88,301.34 L190.62,300.53 L192.35,299.71 L194.09,298.91 L195.83,298.11 L197.58,297.31 L199.32,296.52 L201.07,295.74 L202.82,294.97 L204.57,294.21 L206.33,293.46 L208.09,292.72 L209.85,291.99 L211.62,291.27 L213.39,290.56 L215.17,289.86 L216.95,289.18 L218.73,288.51 L220.52,287.86 L222.32,287.22 L224.12,286.60 L225.92,285.99 L227.73,285.40 L229.55,284.83 L231.37,284.28 L233.20,283.74 L235.04,283.22 L236.88,282.73 L238.73,282.25 L240.58,281.79 L242.44,281.36 L244.30,280.95 L246.17,280.55 L248.04,280.18 L249.92,279.84 L251.80,279.52 L253.69,279.22 L255.58,278.94 L257.48,278.69 L259.38,278.47 L261.28,278.27 L263.19,278.09 L265.10,277.94 L267.01,277.81 L268.93,277.70 L270.84,277.61 L272.76,277.55 L274.68,277.50 L276.61,277.46 L278.53,277.45 L280.45,277.45 L282.37,277.47 L284.30,277.50 L286.22,277.55 L288.10,277.30" fill="none" stroke="#ff1a1a" stroke-width="1.3" stroke-linejoin="round" stroke-linecap="round"/>
<path d="M288.10,277.30 L287.95,279.26 L287.70,281.18 L287.36,283.08 L286.95,284.98 L286.46,286.87 L285.89,288.74 L285.25,290.59 L284.54,292.42 L283.77,294.23 L282.93,296.01 L282.02,297.77 L281.06,299.49 L280.04,301.19 L278.96,302.85 L277.84,304.47 L276.66,306.05 L275.43,307.59 L274.16,309.08 L272.85,310.53 L271.49,311.93 L270.10,313.28 L268.67,314.59 L267.21,315.86 L265.71,317.09 L264.18,318.27 L262.62,319.42 L261.03,320.53 L259.42,321.61 L257.77,322.66 L256.11,323.67 L254.43,324.65 L252.72,325.61 L251.00,326.54 L249.26,327.44 L247.51,328.32 L245.74,329.18 L243.97,330.02 L242.18,330.84 L240.39,331.64 L238.59,332.43 L236.79,333.20 L234.98,333.96 L233.17,334.71 L231.36,335.45 L229.55,336.19 L227.74,336.91 L225.92,337.64 L224.11,338.36 L222.30,339.08 L220.48,339.80 L218.67,340.52 L216.86,341.24 L215.06,341.97 L213.25,342.71 L211.45,343.46 L209.65,344.21 L207.86,344.98 L206.07,345.76 L204.29,346.56 L202.51,347.37 L200.74,348.20 L198.97,349.05 L197.21,349.90 L195.44,350.76 L193.68,351.61 L191.91,352.45 L190.14,353.28 L188.35,354.08 L186.56,354.86 L184.75,355.60 L182.93,356.29 L181.10,356.94 L179.25,357.56 L177.39,358.13 L175.51,358.67 L173.63,359.18 L171.73,359.66 L169.83,360.12 L167.93,360.55 L166.02,360.97 L164.10,361.37 L162.19,361.76 L160.27,362.14 L158.35,362.50 L156.42,362.86 L154.50,363.20 L152.57,363.53 L150.64,363.85 L148.70,364.17 L146.77,364.47 L144.83,364.77 L142.90,365.06 L140.96,365.34 L139.02,365.62 L137.08,365.89 L135.14,366.16 L133.20,366.42 L131.26,366.68 L129.31,366.94 L127.37,367.19 L125.43,367.45 L123.48,367.70 L121.54,367.95 L119.60,368.21 L117.66,368.46 L115.72,368.72 L113.78,368.98 L111.84,369.24 L109.90,369.50 L107.96,369.77 L106.02,370.05 L104.09,370.33 L102.16,370.61 L100.22,370.91 L98.29,371.21 L96.37,371.51 L94.44,371.83 L92.52,372.16 L90.60,372.60" fill="none" stroke="#ff1a1a" stroke-width="1.3" stroke-linejoin="round" stroke-linecap="round"/>
<line x1="94.20" y1="378.60" x2="108.10" y2="378.60" stroke="#1a1a1a" stroke-width="1.3" stroke-linecap="butt"/>
<line x1="94.20" y1="393.00" x2="108.10" y2="393.00" stroke="#ff1a1a" stroke-width="1.3" stroke-linecap="butt"/>
<text x="112.00" y="382.30" font-size="13.0" text-anchor="start" fill="#000" >Single device</text>
<text x="111.00" y="397.70" font-size="13.0" text-anchor="start" fill="#000" >3 devices connected in parallel</text>
<line x1="91.60" y1="259.80" x2="102.60" y2="259.80" stroke="#000" stroke-width="2.3" stroke-linecap="butt"/>
<line x1="97.00" y1="254.90" x2="97.00" y2="265.40" stroke="#000" stroke-width="2.3" stroke-linecap="butt"/>
<line x1="105.90" y1="259.90" x2="187.50" y2="259.90" stroke="#111" stroke-width="1.0" stroke-linecap="butt"/>
<line x1="125.50" y1="259.90" x2="125.50" y2="270.60" stroke="#111" stroke-width="1.0" stroke-linecap="butt"/>
<line x1="125.50" y1="277.10" x2="125.50" y2="285.80" stroke="#111" stroke-width="1.0" stroke-linecap="butt"/>
<line x1="115.20" y1="270.60" x2="135.80" y2="270.60" stroke="#000" stroke-width="2.0" stroke-linecap="round"/>
<line x1="115.20" y1="277.10" x2="135.80" y2="277.10" stroke="#000" stroke-width="2.0" stroke-linecap="round"/>
<line x1="157.20" y1="259.90" x2="157.20" y2="270.60" stroke="#111" stroke-width="1.0" stroke-linecap="butt"/>
<line x1="157.20" y1="277.10" x2="157.20" y2="285.80" stroke="#111" stroke-width="1.0" stroke-linecap="butt"/>
<line x1="146.90" y1="270.60" x2="167.50" y2="270.60" stroke="#000" stroke-width="2.0" stroke-linecap="round"/>
<line x1="146.90" y1="277.10" x2="167.50" y2="277.10" stroke="#000" stroke-width="2.0" stroke-linecap="round"/>
<line x1="187.50" y1="259.90" x2="187.50" y2="270.60" stroke="#111" stroke-width="1.0" stroke-linecap="butt"/>
<line x1="187.50" y1="277.10" x2="187.50" y2="285.80" stroke="#111" stroke-width="1.0" stroke-linecap="butt"/>
<line x1="177.20" y1="270.60" x2="197.80" y2="270.60" stroke="#000" stroke-width="2.0" stroke-linecap="round"/>
<line x1="177.20" y1="277.10" x2="197.80" y2="277.10" stroke="#000" stroke-width="2.0" stroke-linecap="round"/>
<line x1="125.50" y1="285.80" x2="206.80" y2="285.80" stroke="#111" stroke-width="1.0" stroke-linecap="butt"/>
<line x1="212.60" y1="285.70" x2="217.70" y2="285.70" stroke="#000" stroke-width="2.5" stroke-linecap="round"/>
<rect x="85.80" y="251.00" width="207.10" height="152.60" fill="none" stroke="#161616" stroke-width="1.4"/>
<line x1="401.20" y1="403.60" x2="401.20" y2="400.20" stroke="#161616" stroke-width="1.0" stroke-linecap="butt"/>
<line x1="437.90" y1="403.60" x2="437.90" y2="400.20" stroke="#161616" stroke-width="1.0" stroke-linecap="butt"/>
<line x1="474.60" y1="403.60" x2="474.60" y2="400.20" stroke="#161616" stroke-width="1.0" stroke-linecap="butt"/>
<line x1="511.30" y1="403.60" x2="511.30" y2="400.20" stroke="#161616" stroke-width="1.0" stroke-linecap="butt"/>
<line x1="548.00" y1="403.60" x2="548.00" y2="400.20" stroke="#161616" stroke-width="1.0" stroke-linecap="butt"/>
<line x1="584.70" y1="403.60" x2="584.70" y2="400.20" stroke="#161616" stroke-width="1.0" stroke-linecap="butt"/>
<line x1="419.55" y1="403.60" x2="419.55" y2="401.70" stroke="#161616" stroke-width="1.0" stroke-linecap="butt"/>
<line x1="456.25" y1="403.60" x2="456.25" y2="401.70" stroke="#161616" stroke-width="1.0" stroke-linecap="butt"/>
<line x1="492.95" y1="403.60" x2="492.95" y2="401.70" stroke="#161616" stroke-width="1.0" stroke-linecap="butt"/>
<line x1="529.65" y1="403.60" x2="529.65" y2="401.70" stroke="#161616" stroke-width="1.0" stroke-linecap="butt"/>
<line x1="566.35" y1="403.60" x2="566.35" y2="401.70" stroke="#161616" stroke-width="1.0" stroke-linecap="butt"/>
<line x1="395.30" y1="373.08" x2="398.70" y2="373.08" stroke="#161616" stroke-width="1.0" stroke-linecap="butt"/>
<line x1="395.30" y1="342.56" x2="398.70" y2="342.56" stroke="#161616" stroke-width="1.0" stroke-linecap="butt"/>
<line x1="395.30" y1="312.04" x2="398.70" y2="312.04" stroke="#161616" stroke-width="1.0" stroke-linecap="butt"/>
<line x1="395.30" y1="281.52" x2="398.70" y2="281.52" stroke="#161616" stroke-width="1.0" stroke-linecap="butt"/>
<line x1="395.30" y1="388.34" x2="397.20" y2="388.34" stroke="#161616" stroke-width="1.0" stroke-linecap="butt"/>
<line x1="395.30" y1="357.82" x2="397.20" y2="357.82" stroke="#161616" stroke-width="1.0" stroke-linecap="butt"/>
<line x1="395.30" y1="327.30" x2="397.20" y2="327.30" stroke="#161616" stroke-width="1.0" stroke-linecap="butt"/>
<line x1="395.30" y1="296.78" x2="397.20" y2="296.78" stroke="#161616" stroke-width="1.0" stroke-linecap="butt"/>
<line x1="395.30" y1="266.26" x2="397.20" y2="266.26" stroke="#161616" stroke-width="1.0" stroke-linecap="butt"/>
<text transform="translate(402.40,421.20) scale(1.04,1)" font-size="15.6" text-anchor="middle" fill="#000" >0</text>
<text transform="translate(424.07,421.20) scale(1.04,1)" font-size="15.6" text-anchor="start" fill="#000" > 00</text>
<path transform="translate(424.07,421.20) scale(0.00792,-0.00762)" d="M763 0H583V1147Q518 1085 412.5 1023Q307 961 223 930V1104Q374 1175 487 1276Q600 1377 647 1472H763Z" fill="#000"/>
<text transform="translate(476.00,421.20) scale(1.04,1)" font-size="15.6" text-anchor="middle" fill="#000" >200</text>
<text transform="translate(510.30,421.20) scale(1.04,1)" font-size="15.6" text-anchor="middle" fill="#000" >300</text>
<text transform="translate(547.50,421.20) scale(1.04,1)" font-size="15.6" text-anchor="middle" fill="#000" >400</text>
<text transform="translate(583.80,421.20) scale(1.04,1)" font-size="15.6" text-anchor="middle" fill="#000" >500</text>
<text transform="translate(364.75,256.50) scale(1.04,1)" font-size="15.6" text-anchor="start" fill="#000" > .0</text>
<path transform="translate(364.75,256.50) scale(0.00792,-0.00762)" d="M763 0H583V1147Q518 1085 412.5 1023Q307 961 223 930V1104Q374 1175 487 1276Q600 1377 647 1472H763Z" fill="#000"/>
<text transform="translate(387.30,287.02) scale(1.04,1)" font-size="15.6" text-anchor="end" fill="#000" >0.8</text>
<text transform="translate(387.30,317.54) scale(1.04,1)" font-size="15.6" text-anchor="end" fill="#000" >0.6</text>
<text transform="translate(387.30,348.06) scale(1.04,1)" font-size="15.6" text-anchor="end" fill="#000" >0.4</text>
<text transform="translate(387.30,378.58) scale(1.04,1)" font-size="15.6" text-anchor="end" fill="#000" >0.2</text>
<text transform="translate(387.30,409.10) scale(1.04,1)" font-size="15.6" text-anchor="end" fill="#000" >0.0</text>
<text transform="translate(500.30,446.00) scale(1.03,1)" font-size="16.2" text-anchor="middle" fill="#000" >Time (s)</text>
<text transform="translate(344.00,319.10) rotate(-90) scale(1.03,1)" font-size="16.2" text-anchor="middle" fill="#000" >Voltage (V)</text>
<path d="M400.60,403.40 L400.48,402.35 L400.53,401.31 L400.57,400.26 L400.63,399.21 L400.69,398.16 L400.75,397.12 L400.82,396.07 L400.89,395.03 L400.97,393.98 L401.06,392.94 L401.15,391.90 L401.24,390.86 L401.34,389.82 L401.44,388.78 L401.55,387.74 L401.66,386.70 L401.78,385.66 L401.90,384.63 L402.03,383.59 L402.16,382.55 L402.29,381.52 L402.43,380.49 L402.58,379.45 L402.72,378.42 L402.87,377.39 L403.03,376.36 L403.19,375.33 L403.35,374.30 L403.51,373.27 L403.68,372.24 L403.86,371.21 L404.03,370.19 L404.21,369.16 L404.40,368.13 L404.58,367.11 L404.77,366.08 L404.96,365.06 L405.16,364.03 L405.36,363.01 L405.56,361.99 L405.76,360.96 L405.97,359.94 L406.18,358.92 L406.39,357.90 L406.61,356.88 L406.83,355.86 L407.05,354.84 L407.27,353.82 L407.49,352.80 L407.72,351.78 L407.95,350.76 L408.18,349.74 L408.41,348.73 L408.65,347.71 L408.88,346.69 L409.12,345.68 L409.36,344.66 L409.60,343.64 L409.85,342.63 L410.09,341.61 L410.34,340.60 L410.59,339.58 L410.84,338.57 L411.09,337.55 L411.34,336.54 L411.59,335.52 L411.84,334.51 L412.10,333.49 L412.35,332.48 L412.61,331.47 L412.87,330.45 L413.12,329.44 L413.38,328.43 L413.64,327.41 L413.90,326.40 L414.16,325.39 L414.42,324.38 L414.68,323.36 L414.94,322.35 L415.20,321.34 L415.46,320.32 L415.72,319.31 L415.98,318.30 L416.24,317.29 L416.50,316.27 L416.76,315.26 L417.02,314.25 L417.28,313.24 L417.54,312.22 L417.79,311.21 L418.05,310.20 L418.31,309.18 L418.56,308.17 L418.82,307.16 L419.07,306.14 L419.32,305.13 L419.58,304.12 L419.83,303.10 L420.08,302.09 L420.32,301.07 L420.57,300.06 L420.82,299.04 L421.06,298.03 L421.30,297.01 L421.54,296.00 L421.78,294.98 L422.02,293.97 L422.25,292.95 L422.49,291.93 L422.72,290.92 L422.95,289.90 L423.18,288.88 L423.40,287.86 L423.62,286.85 L423.85,285.83 L424.06,284.81 L424.28,283.79 L424.49,282.77 L425.00,281.80" fill="none" stroke="#1a1a1a" stroke-width="1.3" stroke-linejoin="round" stroke-linecap="round"/>
<path d="M425.00,281.80 L425.24,282.80 L425.23,283.84 L425.22,284.88 L425.22,285.91 L425.22,286.95 L425.22,287.99 L425.23,289.02 L425.23,290.06 L425.25,291.10 L425.26,292.13 L425.28,293.17 L425.30,294.20 L425.33,295.24 L425.35,296.27 L425.38,297.30 L425.42,298.34 L425.45,299.37 L425.49,300.40 L425.54,301.44 L425.58,302.47 L425.63,303.50 L425.68,304.53 L425.74,305.56 L425.79,306.60 L425.85,307.63 L425.92,308.66 L425.98,309.69 L426.05,310.72 L426.12,311.75 L426.19,312.78 L426.27,313.81 L426.35,314.83 L426.43,315.86 L426.51,316.89 L426.60,317.92 L426.69,318.95 L426.78,319.97 L426.88,321.00 L426.97,322.03 L427.07,323.05 L427.17,324.08 L427.28,325.11 L427.38,326.13 L427.49,327.16 L427.60,328.18 L427.72,329.21 L427.83,330.23 L427.95,331.25 L428.07,332.28 L428.19,333.30 L428.32,334.33 L428.45,335.35 L428.58,336.37 L428.71,337.39 L428.84,338.42 L428.98,339.44 L429.12,340.46 L429.26,341.48 L429.40,342.50 L429.54,343.52 L429.69,344.54 L429.84,345.56 L429.99,346.59 L430.14,347.60 L430.29,348.62 L430.45,349.64 L430.60,350.66 L430.76,351.68 L430.93,352.70 L431.09,353.72 L431.25,354.74 L431.42,355.76 L431.59,356.77 L431.76,357.79 L431.93,358.81 L432.10,359.82 L432.28,360.84 L432.46,361.86 L432.63,362.87 L432.81,363.89 L433.00,364.91 L433.18,365.92 L433.36,366.94 L433.55,367.95 L433.74,368.97 L433.93,369.98 L434.12,371.00 L434.31,372.01 L434.50,373.02 L434.70,374.04 L434.89,375.05 L435.09,376.06 L435.29,377.08 L435.49,378.09 L435.69,379.10 L435.89,380.11 L436.09,381.13 L436.30,382.14 L436.50,383.15 L436.71,384.16 L436.92,385.17 L437.13,386.18 L437.34,387.19 L437.55,388.21 L437.76,389.22 L437.97,390.23 L438.19,391.24 L438.40,392.25 L438.62,393.26 L438.84,394.27 L439.05,395.27 L439.27,396.28 L439.49,397.29 L439.71,398.30 L439.93,399.31 L440.16,400.32 L440.38,401.33 L440.60,402.33 L440.50,403.40" fill="none" stroke="#1a1a1a" stroke-width="1.3" stroke-linejoin="round" stroke-linecap="round"/>
<path d="M440.20,403.40 L440.08,402.35 L440.13,401.31 L440.17,400.26 L440.23,399.21 L440.29,398.16 L440.35,397.12 L440.42,396.07 L440.49,395.03 L440.57,393.98 L440.66,392.94 L440.75,391.90 L440.84,390.86 L440.94,389.82 L441.04,388.78 L441.15,387.74 L441.26,386.70 L441.38,385.66 L441.50,384.63 L441.63,383.59 L441.76,382.55 L441.89,381.52 L442.03,380.49 L442.18,379.45 L442.32,378.42 L442.47,377.39 L442.63,376.36 L442.79,375.33 L442.95,374.30 L443.11,373.27 L443.28,372.24 L443.46,371.21 L443.63,370.19 L443.81,369.16 L444.00,368.13 L444.18,367.11 L444.37,366.08 L444.56,365.06 L444.76,364.03 L444.96,363.01 L445.16,361.99 L445.36,360.96 L445.57,359.94 L445.78,358.92 L445.99,357.90 L446.21,356.88 L446.43,355.86 L446.65,354.84 L446.87,353.82 L447.09,352.80 L447.32,351.78 L447.55,350.76 L447.78,349.74 L448.01,348.73 L448.25,347.71 L448.48,346.69 L448.72,345.68 L448.96,344.66 L449.20,343.64 L449.45,342.63 L449.69,341.61 L449.94,340.60 L450.19,339.58 L450.44,338.57 L450.69,337.55 L450.94,336.54 L451.19,335.52 L451.44,334.51 L451.70,333.49 L451.95,332.48 L452.21,331.47 L452.47,330.45 L452.72,329.44 L452.98,328.43 L453.24,327.41 L453.50,326.40 L453.76,325.39 L454.02,324.38 L454.28,323.36 L454.54,322.35 L454.80,321.34 L455.06,320.32 L455.32,319.31 L455.58,318.30 L455.84,317.29 L456.10,316.27 L456.36,315.26 L456.62,314.25 L456.88,313.24 L457.14,312.22 L457.39,311.21 L457.65,310.20 L457.91,309.18 L458.16,308.17 L458.42,307.16 L458.67,306.14 L458.92,305.13 L459.18,304.12 L459.43,303.10 L459.68,302.09 L459.92,301.07 L460.17,300.06 L460.42,299.04 L460.66,298.03 L460.90,297.01 L461.14,296.00 L461.38,294.98 L461.62,293.97 L461.85,292.95 L462.09,291.93 L462.32,290.92 L462.55,289.90 L462.78,288.88 L463.00,287.86 L463.22,286.85 L463.45,285.83 L463.66,284.81 L463.88,283.79 L464.09,282.77 L464.60,281.80" fill="none" stroke="#1a1a1a" stroke-width="1.3" stroke-linejoin="round" stroke-linecap="round"/>
<path d="M464.60,281.80 L464.84,282.80 L464.83,283.84 L464.82,284.88 L464.82,285.91 L464.82,286.95 L464.82,287.99 L464.83,289.02 L464.83,290.06 L464.85,291.10 L464.86,292.13 L464.88,293.17 L464.90,294.20 L464.93,295.24 L464.95,296.27 L464.98,297.30 L465.02,298.34 L465.05,299.37 L465.09,300.40 L465.14,301.44 L465.18,302.47 L465.23,303.50 L465.28,304.53 L465.34,305.56 L465.39,306.60 L465.45,307.63 L465.52,308.66 L465.58,309.69 L465.65,310.72 L465.72,311.75 L465.79,312.78 L465.87,313.81 L465.95,314.83 L466.03,315.86 L466.11,316.89 L466.20,317.92 L466.29,318.95 L466.38,319.97 L466.48,321.00 L466.57,322.03 L466.67,323.05 L466.77,324.08 L466.88,325.11 L466.98,326.13 L467.09,327.16 L467.20,328.18 L467.32,329.21 L467.43,330.23 L467.55,331.25 L467.67,332.28 L467.79,333.30 L467.92,334.33 L468.05,335.35 L468.18,336.37 L468.31,337.39 L468.44,338.42 L468.58,339.44 L468.72,340.46 L468.86,341.48 L469.00,342.50 L469.14,343.52 L469.29,344.54 L469.44,345.56 L469.59,346.59 L469.74,347.60 L469.89,348.62 L470.05,349.64 L470.20,350.66 L470.36,351.68 L470.53,352.70 L470.69,353.72 L470.85,354.74 L471.02,355.76 L471.19,356.77 L471.36,357.79 L471.53,358.81 L471.70,359.82 L471.88,360.84 L472.06,361.86 L472.23,362.87 L472.41,363.89 L472.60,364.91 L472.78,365.92 L472.96,366.94 L473.15,367.95 L473.34,368.97 L473.53,369.98 L473.72,371.00 L473.91,372.01 L474.10,373.02 L474.30,374.04 L474.49,375.05 L474.69,376.06 L474.89,377.08 L475.09,378.09 L475.29,379.10 L475.49,380.11 L475.69,381.13 L475.90,382.14 L476.10,383.15 L476.31,384.16 L476.52,385.17 L476.73,386.18 L476.94,387.19 L477.15,388.21 L477.36,389.22 L477.57,390.23 L477.79,391.24 L478.00,392.25 L478.22,393.26 L478.44,394.27 L478.65,395.27 L478.87,396.28 L479.09,397.29 L479.31,398.30 L479.53,399.31 L479.76,400.32 L479.98,401.33 L480.20,402.33 L480.10,403.40" fill="none" stroke="#1a1a1a" stroke-width="1.3" stroke-linejoin="round" stroke-linecap="round"/>
<path d="M480.40,403.40 L480.28,402.35 L480.33,401.31 L480.37,400.26 L480.43,399.21 L480.49,398.16 L480.55,397.12 L480.62,396.07 L480.69,395.03 L480.77,393.98 L480.86,392.94 L480.95,391.90 L481.04,390.86 L481.14,389.82 L481.24,388.78 L481.35,387.74 L481.46,386.70 L481.58,385.66 L481.70,384.63 L481.83,383.59 L481.96,382.55 L482.09,381.52 L482.23,380.49 L482.38,379.45 L482.52,378.42 L482.67,377.39 L482.83,376.36 L482.99,375.33 L483.15,374.30 L483.31,373.27 L483.48,372.24 L483.66,371.21 L483.83,370.19 L484.01,369.16 L484.20,368.13 L484.38,367.11 L484.57,366.08 L484.76,365.06 L484.96,364.03 L485.16,363.01 L485.36,361.99 L485.56,360.96 L485.77,359.94 L485.98,358.92 L486.19,357.90 L486.41,356.88 L486.63,355.86 L486.85,354.84 L487.07,353.82 L487.29,352.80 L487.52,351.78 L487.75,350.76 L487.98,349.74 L488.21,348.73 L488.45,347.71 L488.68,346.69 L488.92,345.68 L489.16,344.66 L489.40,343.64 L489.65,342.63 L489.89,341.61 L490.14,340.60 L490.39,339.58 L490.64,338.57 L490.89,337.55 L491.14,336.54 L491.39,335.52 L491.64,334.51 L491.90,333.49 L492.15,332.48 L492.41,331.47 L492.67,330.45 L492.92,329.44 L493.18,328.43 L493.44,327.41 L493.70,326.40 L493.96,325.39 L494.22,324.38 L494.48,323.36 L494.74,322.35 L495.00,321.34 L495.26,320.32 L495.52,319.31 L495.78,318.30 L496.04,317.29 L496.30,316.27 L496.56,315.26 L496.82,314.25 L497.08,313.24 L497.34,312.22 L497.59,311.21 L497.85,310.20 L498.11,309.18 L498.36,308.17 L498.62,307.16 L498.87,306.14 L499.12,305.13 L499.38,304.12 L499.63,303.10 L499.88,302.09 L500.12,301.07 L500.37,300.06 L500.62,299.04 L500.86,298.03 L501.10,297.01 L501.34,296.00 L501.58,294.98 L501.82,293.97 L502.05,292.95 L502.29,291.93 L502.52,290.92 L502.75,289.90 L502.98,288.88 L503.20,287.86 L503.42,286.85 L503.65,285.83 L503.86,284.81 L504.08,283.79 L504.29,282.77 L504.80,281.80" fill="none" stroke="#1a1a1a" stroke-width="1.3" stroke-linejoin="round" stroke-linecap="round"/>
<path d="M504.80,281.80 L505.04,282.80 L505.03,283.84 L505.02,284.88 L505.02,285.91 L505.02,286.95 L505.02,287.99 L505.03,289.02 L505.03,290.06 L505.05,291.10 L505.06,292.13 L505.08,293.17 L505.10,294.20 L505.13,295.24 L505.15,296.27 L505.18,297.30 L505.22,298.34 L505.25,299.37 L505.29,300.40 L505.34,301.44 L505.38,302.47 L505.43,303.50 L505.48,304.53 L505.54,305.56 L505.59,306.60 L505.65,307.63 L505.72,308.66 L505.78,309.69 L505.85,310.72 L505.92,311.75 L505.99,312.78 L506.07,313.81 L506.15,314.83 L506.23,315.86 L506.31,316.89 L506.40,317.92 L506.49,318.95 L506.58,319.97 L506.68,321.00 L506.77,322.03 L506.87,323.05 L506.97,324.08 L507.08,325.11 L507.18,326.13 L507.29,327.16 L507.40,328.18 L507.52,329.21 L507.63,330.23 L507.75,331.25 L507.87,332.28 L507.99,333.30 L508.12,334.33 L508.25,335.35 L508.38,336.37 L508.51,337.39 L508.64,338.42 L508.78,339.44 L508.92,340.46 L509.06,341.48 L509.20,342.50 L509.34,343.52 L509.49,344.54 L509.64,345.56 L509.79,346.59 L509.94,347.60 L510.09,348.62 L510.25,349.64 L510.40,350.66 L510.56,351.68 L510.73,352.70 L510.89,353.72 L511.05,354.74 L511.22,355.76 L511.39,356.77 L511.56,357.79 L511.73,358.81 L511.90,359.82 L512.08,360.84 L512.26,361.86 L512.43,362.87 L512.61,363.89 L512.80,364.91 L512.98,365.92 L513.16,366.94 L513.35,367.95 L513.54,368.97 L513.73,369.98 L513.92,371.00 L514.11,372.01 L514.30,373.02 L514.50,374.04 L514.69,375.05 L514.89,376.06 L515.09,377.08 L515.29,378.09 L515.49,379.10 L515.69,380.11 L515.89,381.13 L516.10,382.14 L516.30,383.15 L516.51,384.16 L516.72,385.17 L516.93,386.18 L517.14,387.19 L517.35,388.21 L517.56,389.22 L517.77,390.23 L517.99,391.24 L518.20,392.25 L518.42,393.26 L518.64,394.27 L518.85,395.27 L519.07,396.28 L519.29,397.29 L519.51,398.30 L519.73,399.31 L519.96,400.32 L520.18,401.33 L520.40,402.33 L520.30,403.40" fill="none" stroke="#1a1a1a" stroke-width="1.3" stroke-linejoin="round" stroke-linecap="round"/>
<path d="M400.60,403.40 L400.37,401.87 L400.34,400.39 L400.44,398.95 L400.66,397.55 L400.98,396.18 L401.40,394.86 L401.90,393.57 L402.47,392.30 L403.10,391.07 L403.79,389.85 L404.51,388.66 L405.27,387.49 L406.06,386.33 L406.88,385.19 L407.73,384.06 L408.60,382.94 L409.50,381.84 L410.41,380.75 L411.34,379.67 L412.29,378.60 L413.25,377.54 L414.23,376.48 L415.21,375.42 L416.19,374.38 L417.19,373.33 L418.18,372.29 L419.18,371.24 L420.17,370.20 L421.16,369.15 L422.14,368.11 L423.13,367.06 L424.11,366.02 L425.09,364.97 L426.06,363.92 L427.04,362.88 L428.01,361.83 L428.98,360.78 L429.96,359.74 L430.93,358.69 L431.90,357.65 L432.87,356.60 L433.84,355.56 L434.81,354.52 L435.78,353.48 L436.75,352.44 L437.72,351.40 L438.69,350.37 L439.67,349.33 L440.64,348.30 L441.62,347.27 L442.60,346.25 L443.58,345.22 L444.57,344.20 L445.55,343.18 L446.54,342.17 L447.53,341.15 L448.53,340.14 L449.53,339.14 L450.53,338.13 L451.54,337.13 L452.55,336.14 L453.57,335.15 L454.59,334.16 L455.62,333.18 L456.65,332.20 L457.68,331.22 L458.72,330.25 L459.76,329.28 L460.81,328.31 L461.86,327.35 L462.91,326.39 L463.97,325.43 L465.02,324.47 L466.08,323.52 L467.15,322.57 L468.21,321.62 L469.28,320.67 L470.34,319.72 L471.41,318.77 L472.48,317.82 L473.55,316.88 L474.62,315.93 L475.69,314.99 L476.76,314.04 L477.84,313.09 L478.91,312.15 L479.98,311.20 L481.04,310.25 L482.11,309.30 L483.18,308.35 L484.24,307.39 L485.31,306.44 L486.37,305.48 L487.42,304.52 L488.48,303.56 L489.53,302.60 L490.58,301.63 L491.63,300.66 L492.67,299.69 L493.71,298.71 L494.75,297.73 L495.78,296.75 L496.81,295.77 L497.85,294.79 L498.89,293.82 L499.93,292.85 L500.99,291.90 L502.05,290.95 L503.12,290.02 L504.20,289.10 L505.30,288.20 L506.41,287.32 L507.55,286.46 L508.70,285.62 L509.87,284.81 L511.07,284.03 L512.29,283.27 L513.53,282.55 L514.80,281.90" fill="none" stroke="#ff1a1a" stroke-width="1.3" stroke-linejoin="round" stroke-linecap="round"/>
<path d="M514.80,281.90 L515.03,283.06 L514.98,284.33 L514.95,285.60 L514.94,286.87 L514.95,288.13 L514.98,289.39 L515.03,290.64 L515.09,291.89 L515.17,293.14 L515.27,294.38 L515.38,295.62 L515.52,296.85 L515.67,298.08 L515.84,299.31 L516.02,300.53 L516.22,301.75 L516.43,302.97 L516.67,304.18 L516.91,305.38 L517.18,306.59 L517.45,307.78 L517.74,308.98 L518.05,310.17 L518.37,311.35 L518.71,312.54 L519.06,313.71 L519.42,314.89 L519.80,316.06 L520.19,317.22 L520.59,318.38 L521.01,319.54 L521.43,320.69 L521.87,321.84 L522.33,322.98 L522.79,324.12 L523.27,325.26 L523.75,326.39 L524.25,327.51 L524.76,328.64 L525.28,329.75 L525.81,330.87 L526.35,331.98 L526.90,333.08 L527.46,334.18 L528.03,335.28 L528.61,336.37 L529.20,337.45 L529.80,338.54 L530.41,339.61 L531.02,340.69 L531.64,341.75 L532.27,342.82 L532.91,343.88 L533.56,344.93 L534.21,345.98 L534.87,347.02 L535.54,348.06 L536.21,349.10 L536.89,350.13 L537.58,351.16 L538.27,352.18 L538.97,353.20 L539.67,354.21 L540.37,355.22 L541.08,356.23 L541.80,357.24 L542.52,358.24 L543.24,359.24 L543.96,360.24 L544.69,361.24 L545.42,362.24 L546.15,363.23 L546.88,364.23 L547.62,365.22 L548.35,366.22 L549.09,367.21 L549.82,368.21 L550.56,369.21 L551.29,370.21 L552.03,371.21 L552.76,372.21 L553.49,373.21 L554.22,374.22 L554.95,375.23 L555.67,376.24 L556.39,377.25 L557.11,378.27 L557.83,379.30 L558.54,380.32 L559.24,381.36 L559.95,382.39 L560.65,383.43 L561.35,384.46 L562.05,385.50 L562.76,386.52 L563.48,387.54 L564.20,388.55 L564.93,389.55 L565.68,390.53 L566.44,391.49 L567.21,392.43 L568.00,393.35 L568.82,394.25 L569.65,395.11 L570.51,395.95 L571.39,396.76 L572.30,397.53 L573.25,398.27 L574.22,398.97 L575.22,399.63 L576.27,400.24 L577.35,400.81 L578.46,401.33 L579.62,401.80 L580.83,402.22 L582.08,402.58 L583.37,402.88 L584.72,403.13 L585.90,403.40" fill="none" stroke="#ff1a1a" stroke-width="1.3" stroke-linejoin="round" stroke-linecap="round"/>
<line x1="400.60" y1="259.30" x2="414.30" y2="259.30" stroke="#1a1a1a" stroke-width="1.3" stroke-linecap="butt"/>
<line x1="400.20" y1="273.30" x2="414.30" y2="273.30" stroke="#ff1a1a" stroke-width="1.3" stroke-linecap="butt"/>
<text x="418.30" y="263.10" font-size="13.0" text-anchor="start" fill="#000" >Single device</text>
<text x="417.10" y="278.20" font-size="13.0" text-anchor="start" fill="#000" >3 devices connected in parallel</text>
<rect x="395.30" y="251.00" width="207.90" height="152.60" fill="none" stroke="#161616" stroke-width="1.4"/>
</svg></body></html>
